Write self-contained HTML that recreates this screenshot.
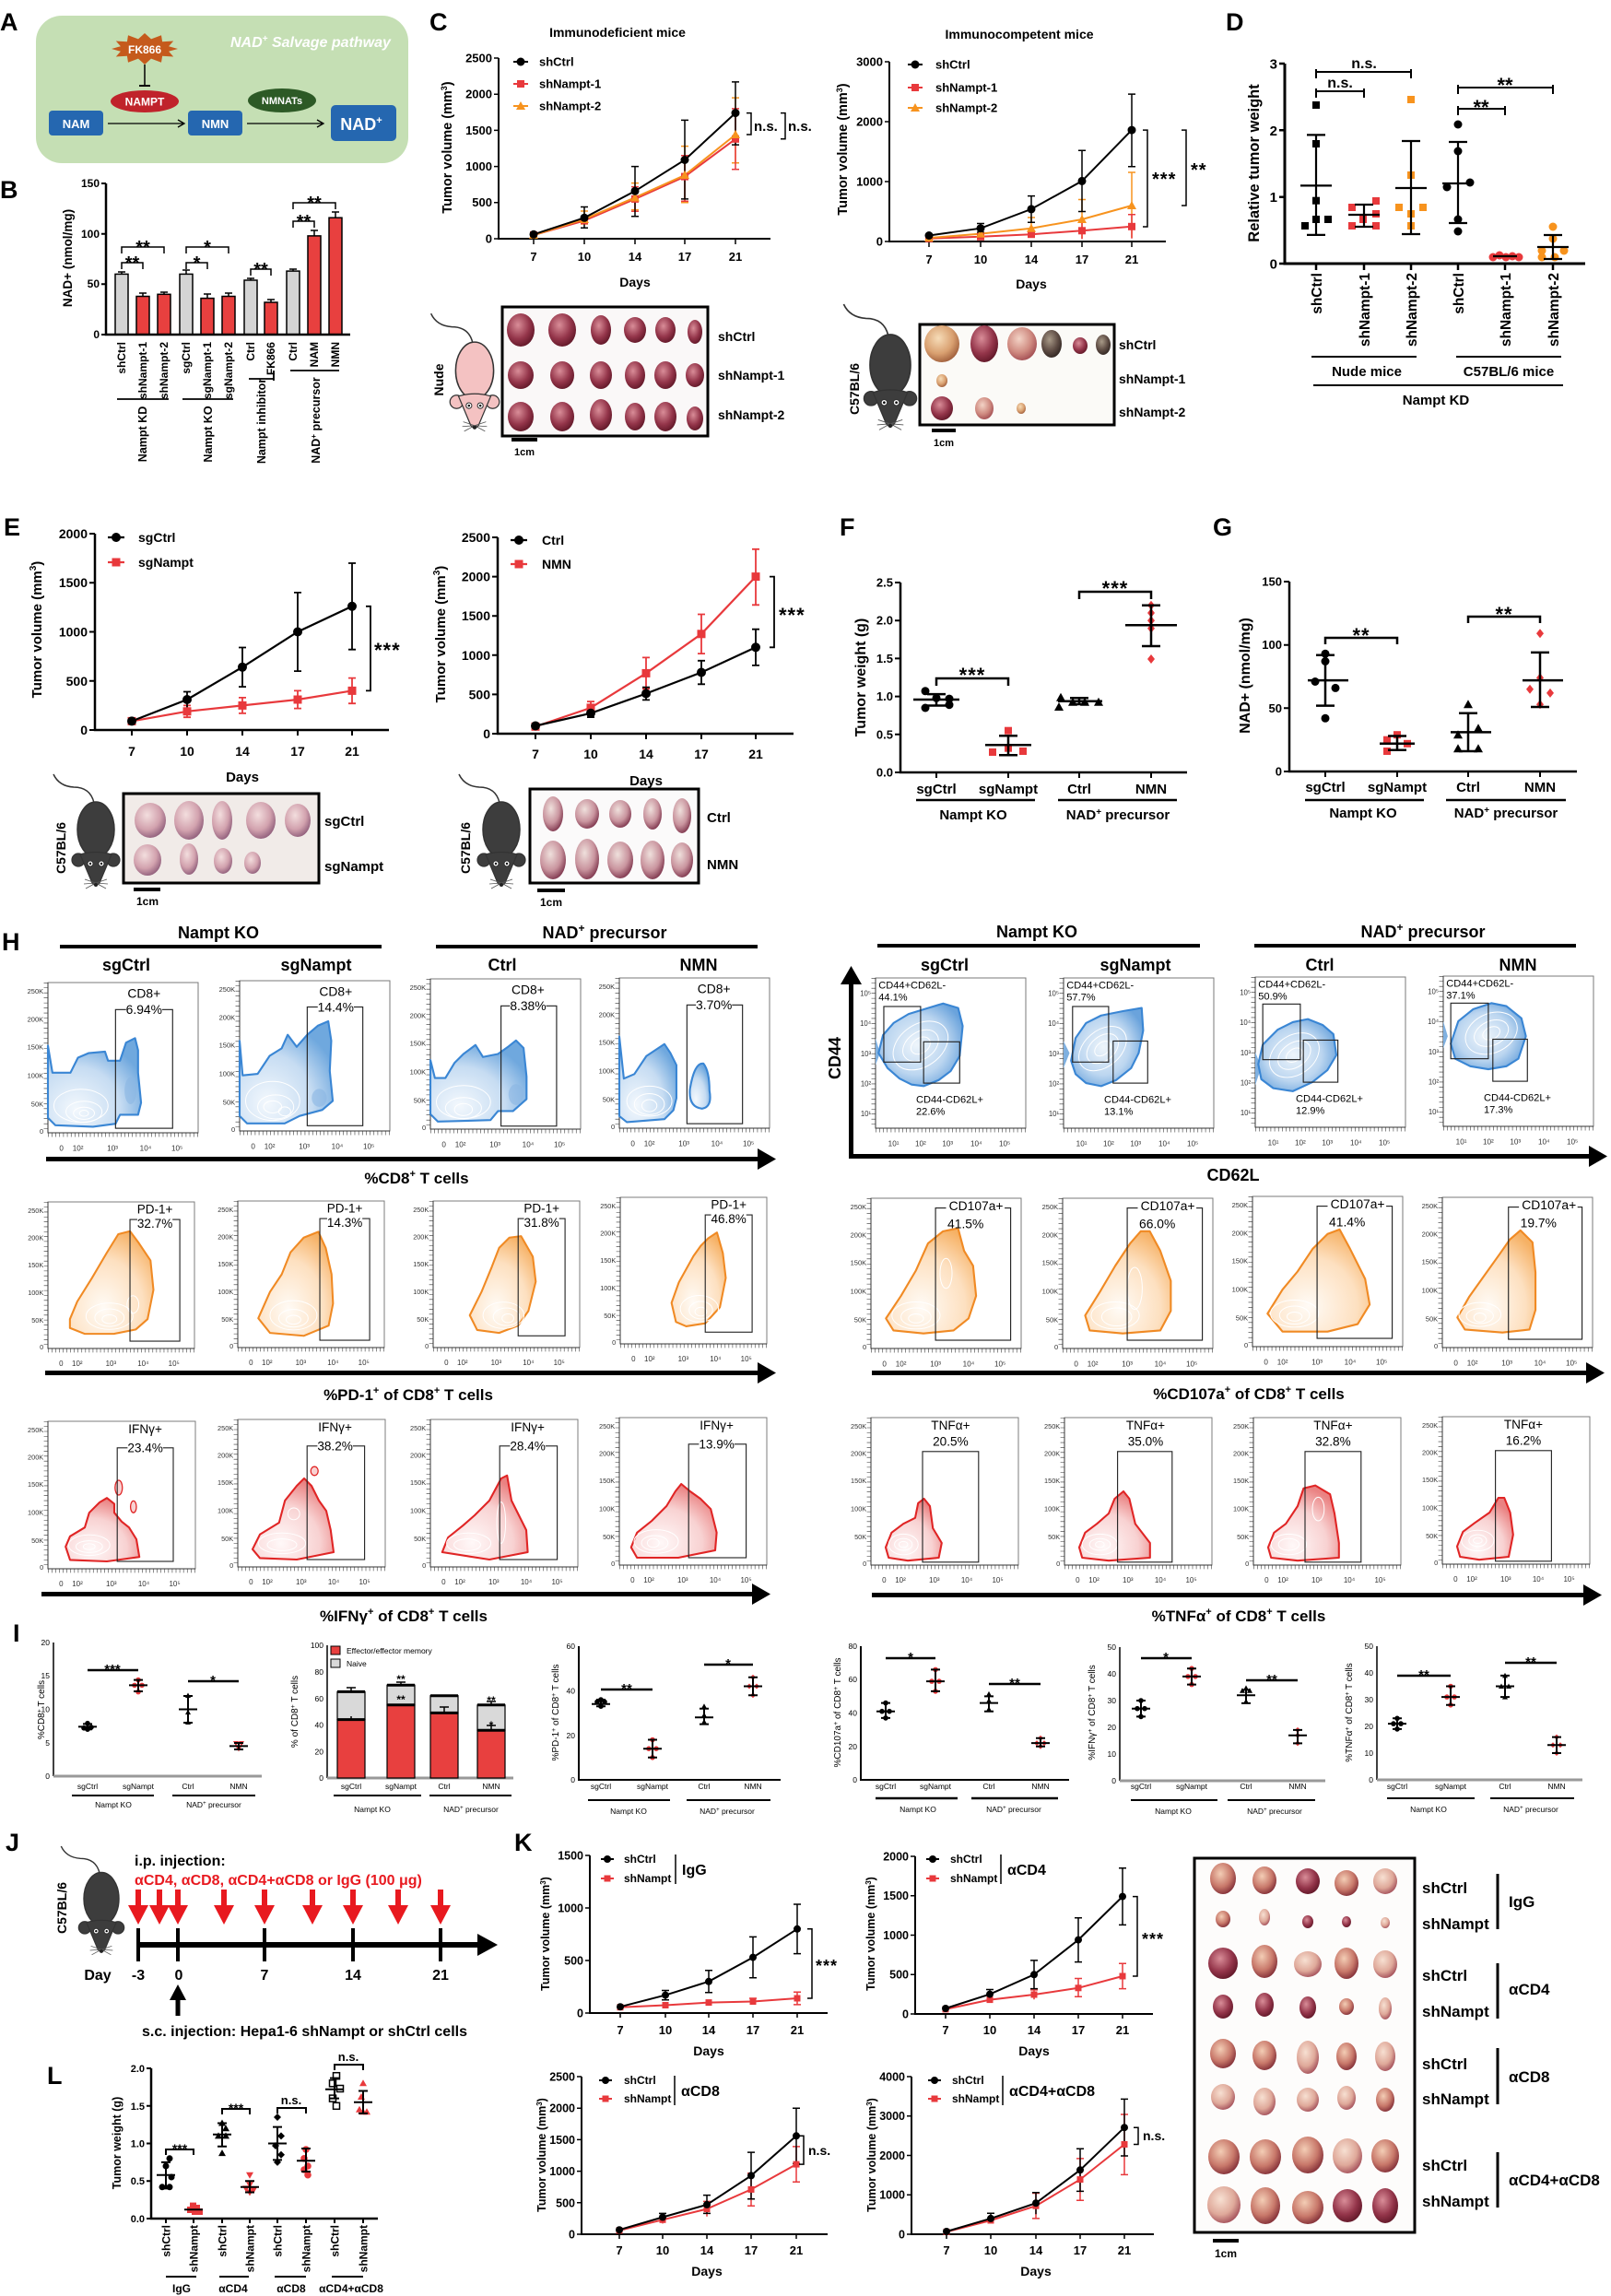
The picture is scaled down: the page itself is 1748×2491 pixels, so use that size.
<!DOCTYPE html>
<html><head><meta charset="utf-8">
<style>
html,body{margin:0;padding:0;background:#fff;}
svg{display:block;font-family:"Liberation Sans",Arial,"DejaVu Sans",sans-serif;}
</style></head><body>
<svg xmlns="http://www.w3.org/2000/svg" xmlns:xlink="http://www.w3.org/1999/xlink" width="1748" height="2491" viewBox="0 0 1748 2491">
<defs>
<radialGradient id="gB" cx=".3" cy=".8" r=".8"><stop offset="0" stop-color="#f3f8fd"/><stop offset=".6" stop-color="#c6dcf2"/><stop offset="1" stop-color="#6fa8de"/></radialGradient>
<radialGradient id="gB2" cx=".45" cy=".5" r=".6"><stop offset="0" stop-color="#eef5fb"/><stop offset=".6" stop-color="#bcd6f0"/><stop offset="1" stop-color="#6aa3dc"/></radialGradient>
<radialGradient id="gO" cx=".4" cy=".75" r=".8"><stop offset="0" stop-color="#fffbf6"/><stop offset=".6" stop-color="#fde0c0"/><stop offset="1" stop-color="#f6b164"/></radialGradient>
<radialGradient id="gR" cx=".35" cy=".8" r=".8"><stop offset="0" stop-color="#fff8f8"/><stop offset=".6" stop-color="#f8d2d2"/><stop offset="1" stop-color="#ea8282"/></radialGradient>
<radialGradient id="t1" cx=".4" cy=".35" r=".7"><stop offset="0" stop-color="#d98d98"/><stop offset=".6" stop-color="#94354a"/><stop offset="1" stop-color="#5e1626"/></radialGradient>
<radialGradient id="t2" cx=".4" cy=".35" r=".7"><stop offset="0" stop-color="#f6dcb8"/><stop offset=".6" stop-color="#d9a070"/><stop offset="1" stop-color="#9c5a38"/></radialGradient>
<radialGradient id="t3" cx=".4" cy=".35" r=".7"><stop offset="0" stop-color="#f3d3c6"/><stop offset=".6" stop-color="#cf8a80"/><stop offset="1" stop-color="#a04a50"/></radialGradient>
<radialGradient id="t4" cx=".4" cy=".35" r=".7"><stop offset="0" stop-color="#a89a88"/><stop offset=".6" stop-color="#5e4c44"/><stop offset="1" stop-color="#2e2420"/></radialGradient>
<radialGradient id="tE" cx=".4" cy=".35" r=".7"><stop offset="0" stop-color="#f3dede"/><stop offset=".6" stop-color="#d2a2ae"/><stop offset="1" stop-color="#8c5a78"/></radialGradient>
<radialGradient id="tE2" cx=".4" cy=".35" r=".7"><stop offset="0" stop-color="#efe0dc"/><stop offset=".6" stop-color="#c9949e"/><stop offset="1" stop-color="#7a3048"/></radialGradient>
<radialGradient id="tK1" cx=".4" cy=".35" r=".7"><stop offset="0" stop-color="#f3cdb5"/><stop offset=".6" stop-color="#c8786a"/><stop offset="1" stop-color="#7e2a34"/></radialGradient>
<radialGradient id="tK2" cx=".4" cy=".35" r=".7"><stop offset="0" stop-color="#f7e0d2"/><stop offset=".6" stop-color="#dfa99a"/><stop offset="1" stop-color="#a04a56"/></radialGradient>
<g id="mouse">
<path d="M-2,-29 Q-6,-46 -24,-46 Q-40,-47 -46,-60" fill="none" stroke="#333" stroke-width="1.5"/>
<ellipse cx="0" cy="0" rx="20" ry="30" stroke="#333" stroke-width="1.5"/>
<circle cx="-19" cy="33" r="7" stroke="#333" stroke-width="1.2"/>
<circle cx="19" cy="33" r="7" stroke="#333" stroke-width="1.2"/>
<path d="M-17,27 Q0,22 17,27 L4,58 Q0,63 -4,58 Z" stroke="#333" stroke-width="1.2"/>
<circle cx="-6" cy="37" r="3" fill="#fff" stroke="#333"/><circle cx="6" cy="37" r="3" fill="#fff" stroke="#333"/>
<circle cx="-6" cy="37" r="1.2" fill="#000"/><circle cx="6" cy="37" r="1.2" fill="#000"/>
<path d="M0,58 L-12,54 M0,58 L-13,59 M0,58 L-11,64 M0,58 L12,54 M0,58 L13,59 M0,58 L11,64" stroke="#555" stroke-width="0.8" fill="none"/>
<circle cx="0" cy="60" r="2" fill="#222"/>
</g>
</defs>
<rect width="1748" height="2491" fill="#fff"/>

<!-- Panel letters -->
<g font-size="27" font-weight="bold">
<text x="0" y="33">A</text><text x="0" y="215">B</text><text x="466" y="33">C</text><text x="1330" y="33">D</text>
<text x="4" y="581">E</text><text x="911" y="581">F</text><text x="1316" y="581">G</text><text x="2" y="1031">H</text>
<text x="14" y="1781">I</text><text x="6" y="2008">J</text><text x="558" y="2008">K</text><text x="51" y="2261">L</text>
</g>

<!-- ===== A ===== -->
<rect x="39" y="17" width="404" height="160" rx="28" fill="#c5dfb4"/>
<text x="250" y="51" font-size="16" font-style="italic" font-weight="bold" fill="#fff">NAD<tspan dy="-6" font-size="10">+</tspan><tspan dy="6"> Salvage pathway</tspan></text>
<polygon points="193,53 183.1,55.8 188.2,61.5 176.1,60.8 175,67.7 164,63.6 157,70 150,63.6 139,67.7 137.9,60.8 125.8,61.5 130.9,55.8 121,53 130.9,50.2 125.8,44.5 137.9,45.2 139,38.3 150,42.4 157,36 164,42.4 175,38.3 176.1,45.2 188.2,44.5 183.1,50.2" fill="#c55a1c"/>
<text x="157" y="58" font-size="12" font-weight="bold" fill="#fff" text-anchor="middle">FK866</text>
<line x1="157" y1="70" x2="157" y2="93" stroke="#000" stroke-width="1.5"/><line x1="151" y1="93" x2="163" y2="93" stroke="#000" stroke-width="2"/>
<ellipse cx="157" cy="110" rx="37" ry="12" fill="#c0232b"/>
<text x="157" y="114.5" font-size="12" font-weight="bold" fill="#fff" text-anchor="middle">NAMPT</text>
<ellipse cx="306" cy="109" rx="37" ry="13" fill="#2d5a26"/>
<text x="306" y="113" font-size="11" font-weight="bold" fill="#fff" text-anchor="middle">NMNATs</text>
<rect x="53" y="120" width="59" height="27" rx="4" fill="#2567b0"/><text x="82.5" y="139" font-size="13" font-weight="bold" fill="#fff" text-anchor="middle">NAM</text>
<rect x="204" y="120" width="59" height="27" rx="4" fill="#2567b0"/><text x="233.5" y="139" font-size="13" font-weight="bold" fill="#fff" text-anchor="middle">NMN</text>
<rect x="359" y="114" width="71" height="39" rx="5" fill="#2567b0"/><text x="392" y="141" font-size="18" font-weight="bold" fill="#fff" text-anchor="middle">NAD<tspan dy="-7" font-size="11">+</tspan></text>
<g stroke="#000" stroke-width="1.3" fill="none"><path d="M117,134H200M193,130L200,134L193,138"/><path d="M268,134H351M344,130L351,134L344,138"/></g>

<!-- ===== B ===== -->
<g stroke="#000" stroke-width="1.5">
<rect x="125" y="297.4" width="14" height="65.6" fill="#d4d4d4"/>
<rect x="148" y="321.5" width="14" height="41.5" fill="#e8403f"/>
<rect x="171" y="319.3" width="14" height="43.7" fill="#e8403f"/>
<rect x="195" y="297.4" width="14" height="65.6" fill="#d4d4d4"/>
<rect x="218" y="323.6" width="14" height="39.4" fill="#e8403f"/>
<rect x="241" y="321.5" width="14" height="41.5" fill="#e8403f"/>
<rect x="265" y="304" width="14" height="59" fill="#d4d4d4"/>
<rect x="287" y="328" width="14" height="35" fill="#e8403f"/>
<rect x="311" y="294.1" width="14" height="68.9" fill="#d4d4d4"/>
<rect x="334" y="255.9" width="14" height="107.1" fill="#e8403f"/>
<rect x="357" y="236.2" width="14" height="126.8" fill="#e8403f"/>
</g>
<path d="M132,297V295M128,295H136M155,321V318M151,318H159M178,319V317M174,317H182M202,297V293M198,293H206M225,323V319M221,319H229M248,321V318M244,318H252M272,304V302M268,302H276M294,328V325M290,325H298M318,294V292M314,292H322M341,256V250M337,250H345M364,236V230M360,230H368" stroke="#000" stroke-width="1.5" fill="none"/>
<path d="M115,199V363H380" stroke="#000" stroke-width="2.5" fill="none"/>
<path d="M110,199H115M110,253.7H115M110,308.3H115M110,363H115" stroke="#000" stroke-width="2"/>
<g font-size="12" font-weight="bold" text-anchor="end"><text x="108" y="203">150</text><text x="108" y="258">100</text><text x="108" y="312">50</text><text x="108" y="367">0</text></g>
<text transform="translate(78,280) rotate(-90)" font-size="13.5" font-weight="bold" text-anchor="middle">NAD+ (nmol/mg)</text>
<g font-size="12" font-weight="bold" text-anchor="end">
<text transform="translate(136,371) rotate(-90)">shCtrl</text><text transform="translate(159,371) rotate(-90)">shNampt-1</text><text transform="translate(182,371) rotate(-90)">shNampt-2</text>
<text transform="translate(206,371) rotate(-90)">sgCtrl</text><text transform="translate(229,371) rotate(-90)">sgNampt-1</text><text transform="translate(252,371) rotate(-90)">sgNampt-2</text>
<text transform="translate(276,371) rotate(-90)">Ctrl</text><text transform="translate(298,371) rotate(-90)">FK866</text>
<text transform="translate(322,371) rotate(-90)">Ctrl</text><text transform="translate(345,371) rotate(-90)">NAM</text><text transform="translate(368,371) rotate(-90)">NMN</text>
</g>
<path d="M127,433H183M198,433H253M270,411H297M297,402V413M315,402H368" stroke="#000" stroke-width="1.8" fill="none"/>
<g font-size="12.5" font-weight="bold" text-anchor="middle">
<text transform="translate(159,471) rotate(-90)">Nampt KD</text><text transform="translate(230,471) rotate(-90)">Nampt KO</text>
<text transform="translate(288,457) rotate(-90)">Nampt inhibitor</text>
<text transform="translate(347,456) rotate(-90)">NAD<tspan dy="-4" font-size="8">+</tspan><tspan dy="4"> precursor</tspan></text>
</g>
<path d="M132,275V268H178V275M132,292V285H155V292M202,275V268H248V275M202,292V285H225V292M272,299V292H294V299M318,227V220H364V227M318,247V240H341V247" stroke="#000" stroke-width="1.5" fill="none"/>
<g font-size="20" font-weight="bold" text-anchor="middle"><text x="155" y="275">**</text><text x="143.5" y="292">**</text><text x="225" y="275">*</text><text x="213.5" y="292">*</text><text x="283" y="299">**</text><text x="341" y="227">**</text><text x="329.5" y="247">**</text></g>

<!-- ===== C left ===== -->
<g font-weight="bold">
<text x="670" y="40" text-anchor="middle" font-size="14">Immunodeficient mice</text>
<path d="M541,63V259H836" stroke="#000" stroke-width="2" fill="none"/>
<path d="M536,63H541M536,102.2H541M536,141.4H541M536,180.6H541M536,219.8H541M536,259H541M579,259V265M634,259V265M689,259V265M743,259V265M798,259V265" stroke="#000" stroke-width="1.5"/>
<g font-size="13" text-anchor="end"><text x="534" y="67.5">2500</text><text x="534" y="106.5">2000</text><text x="534" y="146">1500</text><text x="534" y="185">1000</text><text x="534" y="224">500</text><text x="534" y="263.5">0</text></g>
<g font-size="13" text-anchor="middle"><text x="579" y="283">7</text><text x="634" y="283">10</text><text x="689" y="283">14</text><text x="743" y="283">17</text><text x="798" y="283">21</text></g>
<text x="689" y="311" font-size="14" text-anchor="middle">Days</text>
<text transform="translate(490,160) rotate(-90)" font-size="14.5" text-anchor="middle">Tumor volume (mm<tspan dy="-5" font-size="9">3</tspan><tspan dy="5">)</tspan></text>
</g>
<path d="M634,243V229M630,243H638M630,229H638M689,227.6V198.6M685,227.6H693M685,198.6H693M743,219.8V158.6M739,219.8H747M739,158.6H747M798,176.7V106.1M794,176.7H802M794,106.1H802" stroke="#f7931e" stroke-width="1.5" fill="none"/>
<path d="M689,229.2V202.6M685,229.2H693M685,202.6H693M743,218.2V168.8M739,218.2H747M739,168.8H747M798,183.7V117.9M794,183.7H802M794,117.9H802" stroke="#e8393c" stroke-width="1.5" fill="none"/>
<path d="M634,247.2V224.5M630,247.2H638M630,224.5H638M689,234.7V180.6M685,234.7H693M685,180.6H693M743,215.9V130.4M739,215.9H747M739,130.4H747M798,157.1V88.9M794,157.1H802M794,88.9H802" stroke="#000" stroke-width="1.5" fill="none"/>
<polyline points="579,255.1 634,239.4 689,215.9 743,191.6 798,150.8" stroke="#e8393c" stroke-width="2" fill="none"/>
<polyline points="579,255.1 634,237.8 689,214.3 743,190 798,146.1" stroke="#f7931e" stroke-width="2" fill="none"/>
<polyline points="579,254.3 634,236.3 689,207.3 743,173.5 798,122.6" stroke="#000" stroke-width="2" fill="none"/>
<g fill="#e8393c"><rect x="575" y="251" width="8" height="8"/><rect x="630" y="235.4" width="8" height="8"/><rect x="685" y="211.9" width="8" height="8"/><rect x="739" y="187.6" width="8" height="8"/><rect x="794" y="146.8" width="8" height="8"/></g>
<g fill="#f7931e"><path d="M579,250l5,9h-10z"/><path d="M634,233l5,9h-10z"/><path d="M689,209.5l5,9h-10z"/><path d="M743,185l5,9h-10z"/><path d="M798,141l5,9h-10z"/></g>
<g fill="#000"><circle cx="579" cy="254.3" r="4.5"/><circle cx="634" cy="236.3" r="4.5"/><circle cx="689" cy="207.3" r="4.5"/><circle cx="743" cy="173.5" r="4.5"/><circle cx="798" cy="122.6" r="4.5"/></g>
<path d="M557,67H573M557,91H573" stroke="#000" stroke-width="2"/><path d="M557,91H573" stroke="#e8393c" stroke-width="2"/><path d="M557,115H573" stroke="#f7931e" stroke-width="2"/>
<circle cx="565" cy="67" r="4.5"/><rect x="561" y="87" width="8" height="8" fill="#e8393c"/><path d="M565,110l5,9h-10z" fill="#f7931e"/>
<g font-size="13" font-weight="bold"><text x="585" y="71.5">shCtrl</text><text x="585" y="95.5">shNampt-1</text><text x="585" y="119.5">shNampt-2</text></g>
<path d="M810,122.6H815V146H810M847,122.6H852V150.8H847" stroke="#000" stroke-width="1.5" fill="none"/>
<g font-size="15" font-weight="bold"><text x="818" y="142">n.s.</text><text x="855" y="142">n.s.</text></g>

<!-- ===== C right ===== -->
<g font-weight="bold">
<text x="1106" y="42" text-anchor="middle" font-size="14">Immunocompetent mice</text>
<path d="M965,67V262H1265" stroke="#000" stroke-width="2" fill="none"/>
<path d="M960,67H965M960,132H965M960,197H965M960,262H965M1008,262V268M1064,262V268M1119,262V268M1174,262V268M1228,262V268" stroke="#000" stroke-width="1.5"/>
<g font-size="13" text-anchor="end"><text x="958" y="71.5">3000</text><text x="958" y="136.5">2000</text><text x="958" y="201.5">1000</text><text x="958" y="266.5">0</text></g>
<g font-size="13" text-anchor="middle"><text x="1008" y="286">7</text><text x="1064" y="286">10</text><text x="1119" y="286">14</text><text x="1174" y="286">17</text><text x="1228" y="286">21</text></g>
<text x="1119" y="313" font-size="14" text-anchor="middle">Days</text>
<text transform="translate(919,162) rotate(-90)" font-size="14.5" text-anchor="middle">Tumor volume (mm<tspan dy="-5" font-size="9">3</tspan><tspan dy="5">)</tspan></text>
</g>
<path d="M1119,254V236M1115,236H1123M1174,258.8V216.5M1170,216.5H1178M1228,258V187M1224,187H1232" stroke="#f7931e" stroke-width="1.5" fill="none"/>
<path d="M1119,258V250M1174,259.4V241.2M1170,241.2H1178M1228,258.8V232.8M1224,232.8H1232" stroke="#e8393c" stroke-width="1.5" fill="none"/>
<path d="M1064,252V242.5M1060,252H1068M1060,242.5H1068M1119,241.2V212.6M1115,241.2H1123M1115,212.6H1123M1174,229.5V163.2M1170,229.5H1178M1170,163.2H1178M1228,180.8V102.1M1224,180.8H1232M1224,102.1H1232" stroke="#000" stroke-width="1.5" fill="none"/>
<polyline points="1008,258.8 1064,256.8 1119,254.2 1174,250.3 1228,245.8" stroke="#e8393c" stroke-width="2" fill="none"/>
<polyline points="1008,258.1 1064,253.6 1119,247.7 1174,238 1228,223" stroke="#f7931e" stroke-width="2" fill="none"/>
<polyline points="1008,255.5 1064,247.7 1119,226.9 1174,196.4 1228,141.1" stroke="#000" stroke-width="2" fill="none"/>
<g fill="#e8393c"><rect x="1004" y="254.8" width="8" height="8"/><rect x="1060" y="252.8" width="8" height="8"/><rect x="1115" y="250.2" width="8" height="8"/><rect x="1170" y="246.3" width="8" height="8"/><rect x="1224" y="241.8" width="8" height="8"/></g>
<g fill="#f7931e"><path d="M1008,253l5,9h-10z"/><path d="M1064,248.6l5,9h-10z"/><path d="M1119,242.7l5,9h-10z"/><path d="M1174,233l5,9h-10z"/><path d="M1228,218l5,9h-10z"/></g>
<g fill="#000"><circle cx="1008" cy="255.5" r="4.5"/><circle cx="1064" cy="247.7" r="4.5"/><circle cx="1119" cy="226.9" r="4.5"/><circle cx="1174" cy="196.4" r="4.5"/><circle cx="1228" cy="141.1" r="4.5"/></g>
<path d="M985,70H1001" stroke="#000" stroke-width="2"/><path d="M985,95H1001" stroke="#e8393c" stroke-width="2"/><path d="M985,117H1001" stroke="#f7931e" stroke-width="2"/>
<circle cx="993" cy="70" r="4.5"/><rect x="989" y="91" width="8" height="8" fill="#e8393c"/><path d="M993,112l5,9h-10z" fill="#f7931e"/>
<g font-size="13" font-weight="bold"><text x="1015" y="74.5">shCtrl</text><text x="1015" y="99.5">shNampt-1</text><text x="1015" y="121.5">shNampt-2</text></g>
<path d="M1240,141.1H1245V246H1240M1282,141.1H1287V223H1282" stroke="#000" stroke-width="1.5" fill="none"/>
<g font-size="20" font-weight="bold" letter-spacing="1"><text x="1250" y="201">***</text><text x="1292" y="191">**</text></g>

<!-- C photos -->
<use xlink:href="#mouse" href="#mouse" transform="translate(515,402) scale(1.03)" fill="#f4c2c2"/>
<text transform="translate(481,412) rotate(-90)" font-size="14" font-weight="bold" text-anchor="middle">Nude</text>
<rect x="545" y="333" width="223" height="140" fill="#faf8f8" stroke="#000" stroke-width="3"/>
<g fill="url(#t1)">
<ellipse cx="565" cy="358" rx="15" ry="18"/><ellipse cx="610" cy="358" rx="15" ry="18"/><ellipse cx="652" cy="358" rx="11" ry="16"/><ellipse cx="689" cy="358" rx="12" ry="14"/><ellipse cx="722" cy="358" rx="11" ry="14"/><ellipse cx="754" cy="360" rx="8" ry="13"/>
<ellipse cx="565" cy="407" rx="14" ry="15"/><ellipse cx="610" cy="407" rx="13" ry="15"/><ellipse cx="652" cy="407" rx="12" ry="15"/><ellipse cx="689" cy="407" rx="11" ry="15"/><ellipse cx="722" cy="407" rx="12" ry="15"/><ellipse cx="754" cy="407" rx="10" ry="13"/>
<ellipse cx="565" cy="452" rx="14" ry="16"/><ellipse cx="610" cy="452" rx="13" ry="16"/><ellipse cx="652" cy="450" rx="12" ry="17"/><ellipse cx="689" cy="452" rx="11" ry="15"/><ellipse cx="722" cy="452" rx="12" ry="16"/><ellipse cx="754" cy="454" rx="9" ry="13"/>
</g>
<g font-size="14" font-weight="bold"><text x="779" y="370">shCtrl</text><text x="779" y="412">shNampt-1</text><text x="779" y="455">shNampt-2</text></g>
<line x1="555" y1="477" x2="583" y2="477" stroke="#000" stroke-width="4"/><text x="569" y="494" font-size="11" font-weight="bold" text-anchor="middle">1cm</text>

<use xlink:href="#mouse" href="#mouse" transform="translate(966,396) scale(1.1)" fill="#3d3d3d"/>
<text transform="translate(932,422) rotate(-90)" font-size="14" font-weight="bold" text-anchor="middle">C57BL/6</text>
<rect x="998" y="352" width="211" height="109" fill="#fbfaf7" stroke="#000" stroke-width="3"/>
<ellipse cx="1022" cy="373" rx="19" ry="20" fill="url(#t2)"/><ellipse cx="1068" cy="373" rx="15" ry="20" fill="url(#t1)"/><ellipse cx="1109" cy="373" rx="16" ry="18" fill="url(#t3)"/><ellipse cx="1141" cy="373" rx="11" ry="15" fill="url(#t4)"/><ellipse cx="1172" cy="375" rx="8" ry="9" fill="url(#t1)"/><ellipse cx="1197" cy="374" rx="8" ry="11" fill="url(#t4)"/>
<ellipse cx="1022" cy="413" rx="6" ry="7" fill="url(#t2)"/>
<ellipse cx="1022" cy="443" rx="12" ry="13" fill="url(#t1)"/><ellipse cx="1068" cy="443" rx="10" ry="12" fill="url(#t3)"/><ellipse cx="1108" cy="443" rx="5" ry="6" fill="url(#t2)"/>
<g font-size="14" font-weight="bold"><text x="1214" y="379">shCtrl</text><text x="1214" y="416">shNampt-1</text><text x="1214" y="452">shNampt-2</text></g>
<line x1="1011" y1="467" x2="1037" y2="467" stroke="#000" stroke-width="4"/><text x="1024" y="484" font-size="11" font-weight="bold" text-anchor="middle">1cm</text>

<!-- ===== D ===== -->
<path d="M1394,69V286H1720" stroke="#000" stroke-width="3" fill="none"/>
<path d="M1388,69H1394M1388,141.3H1394M1388,213.7H1394M1388,286H1394M1428,286V293M1480,286V293M1531,286V293M1582,286V293M1633,286V293M1685,286V293" stroke="#000" stroke-width="2.5"/>
<g font-size="15" font-weight="bold" text-anchor="end"><text x="1386" y="74.5">3</text><text x="1386" y="147">2</text><text x="1386" y="219">1</text><text x="1386" y="291.5">0</text></g>
<text transform="translate(1366,177) rotate(-90)" font-size="16.5" font-weight="bold" text-anchor="middle">Relative tumor weight</text>
<g font-size="15.5" font-weight="bold" text-anchor="end">
<text transform="translate(1434,296) rotate(-90)">shCtrl</text><text transform="translate(1486,296) rotate(-90)">shNampt-1</text><text transform="translate(1537,296) rotate(-90)">shNampt-2</text>
<text transform="translate(1588,296) rotate(-90)">shCtrl</text><text transform="translate(1639,296) rotate(-90)">shNampt-1</text><text transform="translate(1691,296) rotate(-90)">shNampt-2</text>
</g>
<path d="M1423,387H1537M1580,387H1694M1425,418H1696" stroke="#000" stroke-width="2"/>
<g font-size="15" font-weight="bold" text-anchor="middle"><text x="1483" y="408">Nude mice</text><text x="1637" y="408">C57BL/6 mice</text><text x="1558" y="439">Nampt KD</text></g>
<g fill="#000"><rect x="1424" y="110" width="8" height="8"/><rect x="1424" y="152" width="8" height="8"/><rect x="1424" y="213.7" width="8" height="8"/><rect x="1424" y="234" width="8" height="8"/><rect x="1412" y="241" width="8" height="8"/><rect x="1437" y="234" width="8" height="8"/></g>
<g fill="#e8393c"><rect x="1463" y="221" width="8" height="8"/><rect x="1489" y="214" width="8" height="8"/><rect x="1489" y="228" width="8" height="8"/><rect x="1475" y="234" width="8" height="8"/><rect x="1463" y="241" width="8" height="8"/><rect x="1489" y="241" width="8" height="8"/></g>
<g fill="#f7931e"><rect x="1527" y="104" width="8" height="8"/><rect x="1527" y="186" width="8" height="8"/><rect x="1514" y="221" width="8" height="8"/><rect x="1540" y="221" width="8" height="8"/><rect x="1527" y="228" width="8" height="8"/><rect x="1527" y="241" width="8" height="8"/></g>
<g fill="#000"><circle cx="1582" cy="135" r="4.5"/><circle cx="1582" cy="164" r="4.5"/><circle cx="1570" cy="203" r="4.5"/><circle cx="1595" cy="198" r="4.5"/><circle cx="1582" cy="238" r="4.5"/><circle cx="1582" cy="251" r="4.5"/></g>
<g fill="#e8393c"><circle cx="1620" cy="279" r="4.5"/><circle cx="1627" cy="277" r="4.5"/><circle cx="1634" cy="279" r="4.5"/><circle cx="1641" cy="278" r="4.5"/><circle cx="1648" cy="279" r="4.5"/></g>
<g fill="#f7931e"><circle cx="1685" cy="246" r="4.5"/><circle cx="1685" cy="259" r="4.5"/><circle cx="1673" cy="272" r="4.5"/><circle cx="1697" cy="272" r="4.5"/><circle cx="1673" cy="279" r="4.5"/><circle cx="1687" cy="279" r="4.5"/></g>
<path d="M1411,201.4H1445M1428,146.4V254.9M1418,146.4H1438M1418,254.9H1438M1463,233H1497M1480,222V246M1470,222H1490M1470,246H1490M1514,204H1548M1531,153V254M1521,153H1541M1521,254H1541M1565,199H1599M1582,154V242M1572,154H1592M1572,242H1592M1620,278H1646M1668,268H1702M1685,255V281M1675,255H1695M1675,281H1695" stroke="#000" stroke-width="2.2" fill="none"/>
<path d="M1428,85V75M1428,78H1531M1531,75V85M1428,106V96M1428,99H1480M1480,96V106M1582,102V92M1582,95H1685M1685,92V102M1582,125V115M1582,118H1633M1633,115V125" stroke="#000" stroke-width="2" fill="none"/>
<g font-size="16" font-weight="bold" text-anchor="middle"><text x="1480" y="74">n.s.</text><text x="1454" y="95">n.s.</text></g>
<g font-size="22" font-weight="bold" text-anchor="middle"><text x="1633" y="100">**</text><text x="1607" y="124">**</text></g>

<!-- ===== E left ===== -->
<g font-weight="bold">
<path d="M103,579V792H422" stroke="#000" stroke-width="2.5" fill="none"/>
<path d="M97,579H103M97,632.25H103M97,685.5H103M97,738.75H103M97,792H103M143,792V798M203,792V798M263,792V798M323,792V798M382,792V798" stroke="#000" stroke-width="2"/>
<g font-size="14" text-anchor="end"><text x="95" y="584">2000</text><text x="95" y="637">1500</text><text x="95" y="690.5">1000</text><text x="95" y="744">500</text><text x="95" y="797">0</text></g>
<g font-size="14" text-anchor="middle"><text x="143" y="820">7</text><text x="203" y="820">10</text><text x="263" y="820">14</text><text x="323" y="820">17</text><text x="382" y="820">21</text></g>
<text x="263" y="848" font-size="15" text-anchor="middle">Days</text>
<text transform="translate(45,683) rotate(-90)" font-size="15" text-anchor="middle">Tumor volume (mm<tspan dy="-6" font-size="10">3</tspan><tspan dy="6">)</tspan></text>
</g>
<path d="M143,785.6V779.2M203,778.2V765.4M199,778.2H207M199,765.4H207M263,773.9V756.9M259,773.9H267M259,756.9H267M323,768.6V749.4M319,768.6H327M319,749.4H327M382,763.2V735.6M378,763.2H386M378,735.6H386" stroke="#e8393c" stroke-width="1.8" fill="none"/>
<path d="M203,767.5V750.5M199,750.5H207M263,745.1V702.5M259,745.1H267M259,702.5H267M323,728.1V642.9M319,728.1H327M319,642.9H327M382,704.7V611M378,704.7H386M378,611H386" stroke="#000" stroke-width="1.8" fill="none"/>
<polyline points="143,782.4 203,771.8 263,765.4 323,759 382,749.4" stroke="#e8393c" stroke-width="2.2" fill="none"/>
<polyline points="143,782.4 203,759 263,723.8 323,685.5 382,657.8" stroke="#000" stroke-width="2.2" fill="none"/>
<g fill="#e8393c"><rect x="138.5" y="777.9" width="9" height="9"/><rect x="198.5" y="767.3" width="9" height="9"/><rect x="258.5" y="760.9" width="9" height="9"/><rect x="318.5" y="754.5" width="9" height="9"/><rect x="377.5" y="744.9" width="9" height="9"/></g>
<g fill="#000"><circle cx="143" cy="782.4" r="5"/><circle cx="203" cy="759" r="5"/><circle cx="263" cy="723.8" r="5"/><circle cx="323" cy="685.5" r="5"/><circle cx="382" cy="657.8" r="5"/></g>
<path d="M117,583H135" stroke="#000" stroke-width="2.2"/><circle cx="126" cy="583" r="5"/>
<path d="M117,610H135" stroke="#e8393c" stroke-width="2.2"/><rect x="121.5" y="605.5" width="9" height="9" fill="#e8393c"/>
<g font-size="14" font-weight="bold"><text x="150" y="588">sgCtrl</text><text x="150" y="615">sgNampt</text></g>
<path d="M397,657.8H402V749.4H397" stroke="#000" stroke-width="1.8" fill="none"/>
<text x="406" y="713" font-size="22" font-weight="bold" letter-spacing="1">***</text>

<!-- ===== E right ===== -->
<g font-weight="bold">
<path d="M540,583V796H861" stroke="#000" stroke-width="2.5" fill="none"/>
<path d="M534,583H540M534,625.6H540M534,668.2H540M534,710.8H540M534,753.4H540M534,796H540M581,796V802M641,796V802M701,796V802M761,796V802M820,796V802" stroke="#000" stroke-width="2"/>
<g font-size="14" text-anchor="end"><text x="532" y="588">2500</text><text x="532" y="630.6">2000</text><text x="532" y="673.2">1500</text><text x="532" y="715.8">1000</text><text x="532" y="758.4">500</text><text x="532" y="801">0</text></g>
<g font-size="14" text-anchor="middle"><text x="581" y="823">7</text><text x="641" y="823">10</text><text x="701" y="823">14</text><text x="761" y="823">17</text><text x="820" y="823">21</text></g>
<text x="701" y="852" font-size="15" text-anchor="middle">Days</text>
<text transform="translate(483,688) rotate(-90)" font-size="15" text-anchor="middle">Tumor volume (mm<tspan dy="-6" font-size="10">3</tspan><tspan dy="6">)</tspan></text>
</g>
<path d="M641,774.7V761.1M637,774.7H645M637,761.1H645M701,747.4V713.4M697,747.4H705M697,713.4H705M761,709.1V666.5M757,709.1H765M757,666.5H765M820,656.3V595.8M816,656.3H824M816,595.8H824" stroke="#e8393c" stroke-width="1.8" fill="none"/>
<path d="M641,778.1V769.6M637,778.1H645M701,759.4V745.7M697,759.4H705M697,745.7H705M761,742.3V716.8M757,742.3H765M757,716.8H765M820,721.9V682.7M816,721.9H824M816,682.7H824" stroke="#000" stroke-width="1.8" fill="none"/>
<polyline points="581,788.3 641,767.9 701,730.4 761,687.8 820,625.6" stroke="#e8393c" stroke-width="2.2" fill="none"/>
<polyline points="581,787.5 641,773.8 701,752.5 761,729.5 820,702.3" stroke="#000" stroke-width="2.2" fill="none"/>
<g fill="#e8393c"><rect x="576.5" y="783.8" width="9" height="9"/><rect x="636.5" y="763.4" width="9" height="9"/><rect x="696.5" y="725.9" width="9" height="9"/><rect x="756.5" y="683.3" width="9" height="9"/><rect x="815.5" y="621.1" width="9" height="9"/></g>
<g fill="#000"><circle cx="581" cy="787.5" r="5"/><circle cx="641" cy="773.8" r="5"/><circle cx="701" cy="752.5" r="5"/><circle cx="761" cy="729.5" r="5"/><circle cx="820" cy="702.3" r="5"/></g>
<path d="M554,586H572" stroke="#000" stroke-width="2.2"/><circle cx="563" cy="586" r="5"/>
<path d="M554,612H572" stroke="#e8393c" stroke-width="2.2"/><rect x="558.5" y="607.5" width="9" height="9" fill="#e8393c"/>
<g font-size="14" font-weight="bold"><text x="588" y="591">Ctrl</text><text x="588" y="617">NMN</text></g>
<path d="M835,625.6H840V702.3H835" stroke="#000" stroke-width="1.8" fill="none"/>
<text x="845" y="675" font-size="22" font-weight="bold" letter-spacing="1">***</text>

<!-- E photos -->
<use xlink:href="#mouse" href="#mouse" transform="translate(104,900)" fill="#3d3d3d"/>
<text transform="translate(71,920) rotate(-90)" font-size="14" font-weight="bold" text-anchor="middle">C57BL/6</text>
<rect x="134" y="861" width="212" height="97" fill="#f1ebe8" stroke="#000" stroke-width="3"/>
<g fill="url(#tE)">
<ellipse cx="163" cy="890" rx="17" ry="19"/><ellipse cx="205" cy="890" rx="16" ry="21"/><ellipse cx="241" cy="890" rx="11" ry="21"/><ellipse cx="283" cy="890" rx="16" ry="20"/><ellipse cx="323" cy="890" rx="14" ry="18"/>
<ellipse cx="160" cy="933" rx="15" ry="17"/><ellipse cx="205" cy="932" rx="10" ry="17"/><ellipse cx="242" cy="934" rx="10" ry="14"/><ellipse cx="274" cy="936" rx="9" ry="12"/>
</g>
<g font-size="15" font-weight="bold"><text x="352" y="896">sgCtrl</text><text x="352" y="945">sgNampt</text></g>
<line x1="145" y1="965" x2="174" y2="965" stroke="#000" stroke-width="4"/><text x="160" y="982" font-size="12" font-weight="bold" text-anchor="middle">1cm</text>
<use xlink:href="#mouse" href="#mouse" transform="translate(544,900)" fill="#3d3d3d"/>
<text transform="translate(510,920) rotate(-90)" font-size="14" font-weight="bold" text-anchor="middle">C57BL/6</text>
<rect x="575" y="856" width="183" height="102" fill="#fbfafa" stroke="#000" stroke-width="3"/>
<g fill="url(#tE2)">
<ellipse cx="600" cy="883" rx="11" ry="19"/><ellipse cx="637" cy="883" rx="13" ry="16"/><ellipse cx="673" cy="883" rx="12" ry="15"/><ellipse cx="708" cy="883" rx="10" ry="17"/><ellipse cx="740" cy="885" rx="10" ry="19"/>
<ellipse cx="600" cy="933" rx="14" ry="21"/><ellipse cx="637" cy="932" rx="13" ry="22"/><ellipse cx="673" cy="933" rx="14" ry="20"/><ellipse cx="708" cy="933" rx="13" ry="21"/><ellipse cx="740" cy="933" rx="12" ry="19"/>
</g>
<g font-size="15" font-weight="bold"><text x="767" y="892">Ctrl</text><text x="767" y="943">NMN</text></g>
<line x1="583" y1="966" x2="613" y2="966" stroke="#000" stroke-width="4"/><text x="598" y="983" font-size="12" font-weight="bold" text-anchor="middle">1cm</text>

<!-- ===== F ===== -->
<g font-weight="bold">
<path d="M977,632V838H1288" stroke="#000" stroke-width="2.5" fill="none"/>
<path d="M971,632H977M971,673.2H977M971,714.4H977M971,755.6H977M971,796.8H977M971,838H977M1016,838V844M1094,838V844M1171,838V844M1249,838V844" stroke="#000" stroke-width="2"/>
<g font-size="13" text-anchor="end"><text x="969" y="636.5">2.5</text><text x="969" y="677.7">2.0</text><text x="969" y="719">1.5</text><text x="969" y="760">1.0</text><text x="969" y="801.3">0.5</text><text x="969" y="842.5">0.0</text></g>
<g font-size="15" text-anchor="middle"><text x="1016" y="861">sgCtrl</text><text x="1094" y="861">sgNampt</text><text x="1171" y="861">Ctrl</text><text x="1249" y="861">NMN</text>
<text x="1056" y="889">Nampt KO</text><text x="1213" y="889">NAD<tspan dy="-5" font-size="10">+</tspan><tspan dy="5"> precursor</tspan></text></g>
<path d="M994,868H1123M1148,868H1277" stroke="#000" stroke-width="2.5"/>
<text transform="translate(939,735) rotate(-90)" font-size="16" text-anchor="middle">Tumor weight (g)</text>
</g>
<g fill="#000"><circle cx="1004" cy="749.8" r="4.5"/><circle cx="1016" cy="757.3" r="4.5"/><circle cx="1030" cy="758.1" r="4.5"/><circle cx="1030" cy="764.7" r="4.5"/><circle cx="1004" cy="768" r="4.5"/>
<path d="M1151,751.7l5,9h-10z"/><path d="M1164,756.7l5,9h-10z"/><path d="M1177,756.7l5,9h-10z"/><path d="M1192,756.7l5,9h-10z"/><path d="M1149,762l5,9h-10z"/></g>
<g fill="#e8393c"><rect x="1090" y="788.7" width="8" height="8"/><rect x="1090" y="807.7" width="8" height="8"/><rect x="1073" y="812" width="8" height="8"/><rect x="1106" y="811" width="8" height="8"/>
<path d="M1249,651.7l4,5-4,5-4-5z"/><path d="M1249,660l4,5-4,5-4-5z"/><path d="M1249,668.3l4,5-4,5-4-5z"/><path d="M1249,676.7l4,5-4,5-4-5z"/><path d="M1249,710l4,5-4,5-4-5z"/></g>
<path d="M991,759H1041M1016,753.1V765.5M1006,753.1H1026M1006,765.5H1026M1069,808.3H1119M1094,798.3V819.3M1084,798.3H1104M1084,819.3H1104M1148,760.7H1196M1171,757.3V764M1161,757.3H1181M1161,764H1181M1221,678.3H1277M1249,656.7V701M1239,656.7H1259M1239,701H1259" stroke="#000" stroke-width="2.5" fill="none"/>
<path d="M1016,744V736H1094V744M1171,650V642H1249V650" stroke="#000" stroke-width="2.5" fill="none"/>
<g font-size="22" font-weight="bold" text-anchor="middle" letter-spacing="1"><text x="1055" y="740">***</text><text x="1210" y="646">***</text></g>

<!-- ===== G ===== -->
<g font-weight="bold">
<path d="M1399,631V837H1711" stroke="#000" stroke-width="2.5" fill="none"/>
<path d="M1393,631H1399M1393,699.7H1399M1393,768.3H1399M1393,837H1399M1438,837V843M1516,837V843M1593,837V843M1671,837V843" stroke="#000" stroke-width="2"/>
<g font-size="13" text-anchor="end"><text x="1391" y="635.5">150</text><text x="1391" y="704">100</text><text x="1391" y="773">50</text><text x="1391" y="841.5">0</text></g>
<g font-size="15" text-anchor="middle"><text x="1438" y="859">sgCtrl</text><text x="1516" y="859">sgNampt</text><text x="1593" y="859">Ctrl</text><text x="1671" y="859">NMN</text>
<text x="1479" y="887">Nampt KO</text><text x="1634" y="887">NAD<tspan dy="-5" font-size="10">+</tspan><tspan dy="5"> precursor</tspan></text></g>
<path d="M1416,868H1545M1569,868H1699" stroke="#000" stroke-width="2.5"/>
<text transform="translate(1356,733) rotate(-90)" font-size="16" text-anchor="middle">NAD+ (nmol/mg)</text>
</g>
<g fill="#000"><circle cx="1438" cy="709.3" r="4.5"/><circle cx="1438" cy="717.5" r="4.5"/><circle cx="1427" cy="739.5" r="4.5"/><circle cx="1449" cy="746.4" r="4.5"/><circle cx="1438" cy="779.3" r="4.5"/>
<path d="M1593,759.2l5,9h-10z"/><path d="M1604,785.3l5,9h-10z"/><path d="M1582,792.2l5,9h-10z"/><path d="M1582,807.3l5,9h-10z"/><path d="M1604,807.3l5,9h-10z"/></g>
<g fill="#e8393c"><rect x="1512" y="793.2" width="8" height="8"/><rect x="1501" y="798.7" width="8" height="8"/><rect x="1523" y="802.8" width="8" height="8"/><rect x="1501" y="811" width="8" height="8"/>
<path d="M1671,682.3l4,5-4,5-4-5z"/><path d="M1671,730.4l4,5-4,5-4-5z"/><path d="M1660,742.7l4,5-4,5-4-5z"/><path d="M1682,746.9l4,5-4,5-4-5z"/><path d="M1671,759.2l4,5-4,5-4-5z"/></g>
<path d="M1419,738.1H1463M1438,710.7V765.6M1428,710.7H1448M1428,765.6H1448M1497,806.8H1535M1516,798.5V813.7M1506,798.5H1526M1506,813.7H1526M1574,794.4H1618M1593,773.8V815M1583,773.8H1603M1583,815H1603M1652,738.1H1696M1671,707.9V767M1661,707.9H1681M1661,767H1681" stroke="#000" stroke-width="2.5" fill="none"/>
<path d="M1438,699V692H1516V699M1593,676V669H1671V676" stroke="#000" stroke-width="2.5" fill="none"/>
<g font-size="22" font-weight="bold" text-anchor="middle" letter-spacing="1"><text x="1477" y="697">**</text><text x="1632" y="674">**</text></g>

<!-- ===== H headers ===== -->
<g font-weight="bold" text-anchor="middle" font-size="18">
<text x="237" y="1018">Nampt KO</text><text x="656" y="1018">NAD<tspan dy="-7" font-size="12">+</tspan><tspan dy="7"> precursor</tspan></text>
<text x="137" y="1053">sgCtrl</text><text x="343" y="1053">sgNampt</text><text x="545" y="1053">Ctrl</text><text x="758" y="1053">NMN</text>
<text x="1125" y="1017">Nampt KO</text><text x="1544" y="1017">NAD<tspan dy="-7" font-size="12">+</tspan><tspan dy="7"> precursor</tspan></text>
<text x="1025" y="1053">sgCtrl</text><text x="1232" y="1053">sgNampt</text><text x="1432" y="1053">Ctrl</text><text x="1647" y="1053">NMN</text>
</g>
<path d="M65,1027H414M473,1027H822M952,1026H1302M1361,1026H1710" stroke="#000" stroke-width="4"/>

<!-- arrows -->
<g fill="#000" stroke="none">
<rect x="50" y="1255" width="775" height="5"/><polygon points="822,1246 842,1257.5 822,1269"/>
<rect x="923" y="1252" width="803" height="5"/><polygon points="1724,1243 1744,1254.5 1724,1266"/>
<rect x="921" y="1066" width="5" height="191"/><polygon points="912,1068 923.5,1048 935,1068"/>
<rect x="49" y="1487" width="776" height="5"/><polygon points="822,1478 842,1489.5 822,1501"/>
<rect x="946" y="1487" width="778" height="5"/><polygon points="1721,1478 1741,1489.5 1721,1501"/>
<rect x="45" y="1727" width="774" height="5"/><polygon points="816,1718 836,1729.5 816,1741"/>
<rect x="946" y="1728" width="775" height="5"/><polygon points="1718,1719 1738,1730.5 1718,1742"/>
</g>
<g font-weight="bold" text-anchor="middle" font-size="17">
<text x="452" y="1284">%CD8<tspan dy="-7" font-size="11">+</tspan><tspan dy="7"> T cells</tspan></text>
<text x="1338" y="1281" font-size="18">CD62L</text>
<text transform="translate(912,1148) rotate(-90)" font-size="18">CD44</text>
<text x="443" y="1519">%PD-1<tspan dy="-7" font-size="11">+</tspan><tspan dy="7"> of CD8</tspan><tspan dy="-7" font-size="11">+</tspan><tspan dy="7"> T cells</tspan></text>
<text x="1355" y="1518">%CD107a<tspan dy="-7" font-size="11">+</tspan><tspan dy="7"> of CD8</tspan><tspan dy="-7" font-size="11">+</tspan><tspan dy="7"> T cells</tspan></text>
<text x="438" y="1759">%IFNγ<tspan dy="-7" font-size="11">+</tspan><tspan dy="7"> of CD8</tspan><tspan dy="-7" font-size="11">+</tspan><tspan dy="7"> T cells</tspan></text>
<text x="1344" y="1759">%TNFα<tspan dy="-7" font-size="11">+</tspan><tspan dy="7"> of CD8</tspan><tspan dy="-7" font-size="11">+</tspan><tspan dy="7"> T cells</tspan></text>
</g>

<!-- ===== H row1 left (CD8) ===== -->
<svg x="52" y="1066" width="163" height="163" viewBox="0 0 100 100" overflow="visible">
<rect width="100" height="100" fill="#fff" stroke="#777" stroke-width=".6"/><path d="M0,0V100H100" fill="none" stroke="#333" stroke-width=".6"/>
<line x1="0" y1="101.5" x2="100" y2="101.5" stroke="#333" stroke-width="2.5" stroke-dasharray=".35 2.2"/><line x1="-1.5" y1="0" x2="-1.5" y2="100" stroke="#333" stroke-width="2.5" stroke-dasharray=".35 3"/>
<g font-size="4.6" fill="#333" text-anchor="end"><text x="-3" y="7.5">250K</text><text x="-3" y="26">200K</text><text x="-3" y="44.5">150K</text><text x="-3" y="63.5">100K</text><text x="-3" y="82.5">50K</text><text x="-3" y="100.5">0</text></g>
<g font-size="5" fill="#333" text-anchor="middle"><text x="9" y="112">0</text><text x="20" y="112">10²</text><text x="43" y="112">10³</text><text x="65" y="112">10⁴</text><text x="86" y="112">10⁵</text></g>
<path d="M0,42 L3,60 L15,60 L20,50 L27,47 L38,46 L40,52 L48,52 L52,40 L58,37 L60,45 L60,60 L62,80 L60,88 L48,88 L45,94 L30,96 L5,95 L0,90Z" fill="url(#gB)" stroke="#3a86d4" stroke-width="1.3" stroke-linejoin="round"/>
<ellipse cx="55" cy="72" rx="4" ry="9" fill="#8ab6e2" opacity=".6"/>
<g fill="none" stroke="#fff" stroke-width=".6"><ellipse cx="22" cy="82" rx="18" ry="11"/><ellipse cx="24" cy="86" rx="12" ry="7"/><ellipse cx="24" cy="87" rx="7" ry="4"/><ellipse cx="24" cy="87" rx="3" ry="2"/></g>
<rect x="45" y="18" width="38" height="79" fill="none" stroke="#222" stroke-width=".7"/>
<text x="64" y="10" font-size="8.5" text-anchor="middle">CD8+</text><rect x="52" y="14" width="24" height="8" fill="#fff"/><text x="64" y="21" font-size="8.5" text-anchor="middle">6.94%</text>
</svg>
<svg x="260" y="1064" width="163" height="163" viewBox="0 0 100 100" overflow="visible">
<rect width="100" height="100" fill="#fff" stroke="#777" stroke-width=".6"/><path d="M0,0V100H100" fill="none" stroke="#333" stroke-width=".6"/>
<line x1="0" y1="101.5" x2="100" y2="101.5" stroke="#333" stroke-width="2.5" stroke-dasharray=".35 2.2"/><line x1="-1.5" y1="0" x2="-1.5" y2="100" stroke="#333" stroke-width="2.5" stroke-dasharray=".35 3"/>
<g font-size="4.6" fill="#333" text-anchor="end"><text x="-3" y="7.5">250K</text><text x="-3" y="26">200K</text><text x="-3" y="44.5">150K</text><text x="-3" y="63.5">100K</text><text x="-3" y="82.5">50K</text><text x="-3" y="100.5">0</text></g>
<g font-size="5" fill="#333" text-anchor="middle"><text x="9" y="112">0</text><text x="20" y="112">10²</text><text x="43" y="112">10³</text><text x="65" y="112">10⁴</text><text x="86" y="112">10⁵</text></g>
<path d="M0,40 L2,63 L12,62 L20,50 L28,45 L32,36 L38,44 L45,36 L52,30 L59,27 L61,40 L60,60 L62,80 L55,86 L40,90 L30,95 L5,95 L0,90Z" fill="url(#gB)" stroke="#3a86d4" stroke-width="1.3" stroke-linejoin="round"/>
<ellipse cx="53" cy="78" rx="5" ry="6" fill="#8ab6e2" opacity=".6"/>
<g fill="none" stroke="#fff" stroke-width=".6"><ellipse cx="22" cy="80" rx="18" ry="13"/><ellipse cx="24" cy="84" rx="12" ry="8"/><ellipse cx="22" cy="84" rx="6" ry="4"/><ellipse cx="30" cy="87" rx="4" ry="3"/></g>
<rect x="45" y="17.5" width="37" height="79" fill="none" stroke="#222" stroke-width=".7"/>
<text x="64" y="10" font-size="8.5" text-anchor="middle">CD8+</text><rect x="52" y="13.5" width="24" height="8" fill="#fff"/><text x="64" y="20.5" font-size="8.5" text-anchor="middle">14.4%</text>
</svg>
<svg x="467" y="1062" width="163" height="163" viewBox="0 0 100 100" overflow="visible">
<rect width="100" height="100" fill="#fff" stroke="#777" stroke-width=".6"/><path d="M0,0V100H100" fill="none" stroke="#333" stroke-width=".6"/>
<line x1="0" y1="101.5" x2="100" y2="101.5" stroke="#333" stroke-width="2.5" stroke-dasharray=".35 2.2"/><line x1="-1.5" y1="0" x2="-1.5" y2="100" stroke="#333" stroke-width="2.5" stroke-dasharray=".35 3"/>
<g font-size="4.6" fill="#333" text-anchor="end"><text x="-3" y="7.5">250K</text><text x="-3" y="26">200K</text><text x="-3" y="44.5">150K</text><text x="-3" y="63.5">100K</text><text x="-3" y="82.5">50K</text><text x="-3" y="100.5">0</text></g>
<g font-size="5" fill="#333" text-anchor="middle"><text x="9" y="112">0</text><text x="20" y="112">10²</text><text x="43" y="112">10³</text><text x="65" y="112">10⁴</text><text x="86" y="112">10⁵</text></g>
<path d="M0,54 L3,66 L10,66 L16,56 L22,50 L30,44 L35,52 L45,50 L52,45 L57,41 L62,46 L64,65 L64,80 L55,88 L45,88 L40,94 L5,95 L0,90Z" fill="url(#gB)" stroke="#3a86d4" stroke-width="1.3" stroke-linejoin="round"/>
<ellipse cx="57" cy="77" rx="5" ry="7" fill="#8ab6e2" opacity=".6"/>
<g fill="none" stroke="#fff" stroke-width=".6"><ellipse cx="22" cy="82" rx="18" ry="11"/><ellipse cx="22" cy="86" rx="12" ry="7"/><ellipse cx="22" cy="87" rx="6" ry="4"/></g>
<rect x="47" y="18" width="37" height="80" fill="none" stroke="#222" stroke-width=".7"/>
<text x="65" y="10" font-size="8.5" text-anchor="middle">CD8+</text><rect x="53" y="14" width="24" height="8" fill="#fff"/><text x="65" y="21" font-size="8.5" text-anchor="middle">8.38%</text>
</svg>
<svg x="672" y="1061" width="163" height="163" viewBox="0 0 100 100" overflow="visible">
<rect width="100" height="100" fill="#fff" stroke="#777" stroke-width=".6"/><path d="M0,0V100H100" fill="none" stroke="#333" stroke-width=".6"/>
<line x1="0" y1="101.5" x2="100" y2="101.5" stroke="#333" stroke-width="2.5" stroke-dasharray=".35 2.2"/><line x1="-1.5" y1="0" x2="-1.5" y2="100" stroke="#333" stroke-width="2.5" stroke-dasharray=".35 3"/>
<g font-size="4.6" fill="#333" text-anchor="end"><text x="-3" y="7.5">250K</text><text x="-3" y="26">200K</text><text x="-3" y="44.5">150K</text><text x="-3" y="63.5">100K</text><text x="-3" y="82.5">50K</text><text x="-3" y="100.5">0</text></g>
<g font-size="5" fill="#333" text-anchor="middle"><text x="9" y="112">0</text><text x="20" y="112">10²</text><text x="43" y="112">10³</text><text x="65" y="112">10⁴</text><text x="86" y="112">10⁵</text></g>
<path d="M0,39 L3,67 L10,64 L18,52 L30,44 L34,50 L38,58 L38,80 L36,88 L30,94 L5,96 L0,92Z" fill="url(#gB)" stroke="#3a86d4" stroke-width="1.3" stroke-linejoin="round"/>
<path d="M47,74 Q50,56 56,57 Q60,62 60,75 Q62,86 55,87 Q46,86 47,74Z" fill="url(#gB)" stroke="#3a86d4" stroke-width="1.3"/>
<g fill="none" stroke="#fff" stroke-width=".6"><ellipse cx="20" cy="82" rx="15" ry="10"/><ellipse cx="20" cy="84" rx="10" ry="7"/><ellipse cx="20" cy="85" rx="5" ry="4"/></g>
<rect x="45" y="18" width="37" height="79" fill="none" stroke="#222" stroke-width=".7"/>
<text x="63" y="10" font-size="8.5" text-anchor="middle">CD8+</text><rect x="51" y="14" width="24" height="8" fill="#fff"/><text x="63" y="21" font-size="8.5" text-anchor="middle">3.70%</text>
</svg>

<!-- ===== H row1 right (CD44/CD62L) ===== -->
<svg x="950" y="1061" width="163" height="163" viewBox="0 0 100 100" overflow="visible">
<rect width="100" height="100" fill="#fff" stroke="#777" stroke-width=".6"/><path d="M0,0V100H100" fill="none" stroke="#333" stroke-width=".6"/>
<line x1="0" y1="101.5" x2="100" y2="101.5" stroke="#333" stroke-width="2.5" stroke-dasharray=".35 2.2"/><line x1="-1.5" y1="0" x2="-1.5" y2="100" stroke="#333" stroke-width="2.5" stroke-dasharray=".35 3"/>
<g font-size="4.8" fill="#333" text-anchor="end"><text x="-3" y="12">10⁵</text><text x="-3" y="32">10⁴</text><text x="-3" y="52">10³</text><text x="-3" y="72">10²</text><text x="-3" y="92">10¹</text></g>
<g font-size="5" fill="#333" text-anchor="middle"><text x="12" y="112">10¹</text><text x="30" y="112">10²</text><text x="48" y="112">10³</text><text x="67" y="112">10⁴</text><text x="86" y="112">10⁵</text></g>
<path d="M0,40 L3,50 L0,58Z" fill="#7fb0e0"/>
<path d="M2,50 L5,38 L12,30 L22,24 L35,20 L45,17 L55,20 L58,32 L56,52 L50,62 L42,68 L32,72 L24,71 L16,67 L8,60Z" fill="url(#gB2)" stroke="#3a86d4" stroke-width="1.3" stroke-linejoin="round"/>
<g fill="none" stroke="#fff" stroke-width=".6" transform="rotate(-35 30 45)"><ellipse cx="30" cy="45" rx="20" ry="14"/><ellipse cx="30" cy="45" rx="13" ry="9"/><ellipse cx="30" cy="45" rx="7" ry="5"/></g>
<g fill="none" stroke="#222" stroke-width=".7"><rect x="5.5" y="19" width="24.5" height="37"/><rect x="32" y="42.5" width="24" height="27.5"/></g>
<g font-size="6.8" fill="#000"><text x="2" y="7">CD44+CD62L-</text><text x="2" y="15">44.1%</text><text x="27" y="83">CD44-CD62L+</text><text x="27" y="91">22.6%</text></g>
</svg>
<svg x="1154" y="1061" width="163" height="163" viewBox="0 0 100 100" overflow="visible">
<rect width="100" height="100" fill="#fff" stroke="#777" stroke-width=".6"/><path d="M0,0V100H100" fill="none" stroke="#333" stroke-width=".6"/>
<line x1="0" y1="101.5" x2="100" y2="101.5" stroke="#333" stroke-width="2.5" stroke-dasharray=".35 2.2"/><line x1="-1.5" y1="0" x2="-1.5" y2="100" stroke="#333" stroke-width="2.5" stroke-dasharray=".35 3"/>
<g font-size="4.8" fill="#333" text-anchor="end"><text x="-3" y="12">10⁵</text><text x="-3" y="32">10⁴</text><text x="-3" y="52">10³</text><text x="-3" y="72">10²</text><text x="-3" y="92">10¹</text></g>
<g font-size="5" fill="#333" text-anchor="middle"><text x="12" y="112">10¹</text><text x="30" y="112">10²</text><text x="48" y="112">10³</text><text x="67" y="112">10⁴</text><text x="86" y="112">10⁵</text></g>
<path d="M0,42 L4,50 L0,60Z" fill="#7fb0e0"/>
<path d="M5,55 L8,40 L15,30 L25,25 L40,22 L52,20 L53,35 L50,50 L45,60 L35,68 L25,72 L15,70 L8,64Z" fill="url(#gB2)" stroke="#3a86d4" stroke-width="1.3" stroke-linejoin="round"/>
<g fill="none" stroke="#fff" stroke-width=".6" transform="rotate(-40 26 47)"><ellipse cx="26" cy="47" rx="18" ry="12"/><ellipse cx="26" cy="47" rx="12" ry="8"/><ellipse cx="26" cy="47" rx="6" ry="4"/></g>
<g fill="none" stroke="#222" stroke-width=".7"><rect x="6" y="19" width="24" height="37"/><rect x="33" y="42" width="23" height="28"/></g>
<g font-size="6.8" fill="#000"><text x="2" y="7">CD44+CD62L-</text><text x="2" y="15">57.7%</text><text x="27" y="83">CD44-CD62L+</text><text x="27" y="91">13.1%</text></g>
</svg>
<svg x="1362" y="1060" width="163" height="163" viewBox="0 0 100 100" overflow="visible">
<rect width="100" height="100" fill="#fff" stroke="#777" stroke-width=".6"/><path d="M0,0V100H100" fill="none" stroke="#333" stroke-width=".6"/>
<line x1="0" y1="101.5" x2="100" y2="101.5" stroke="#333" stroke-width="2.5" stroke-dasharray=".35 2.2"/><line x1="-1.5" y1="0" x2="-1.5" y2="100" stroke="#333" stroke-width="2.5" stroke-dasharray=".35 3"/>
<g font-size="4.8" fill="#333" text-anchor="end"><text x="-3" y="12">10⁵</text><text x="-3" y="32">10⁴</text><text x="-3" y="52">10³</text><text x="-3" y="72">10²</text><text x="-3" y="92">10¹</text></g>
<g font-size="5" fill="#333" text-anchor="middle"><text x="12" y="112">10¹</text><text x="30" y="112">10²</text><text x="48" y="112">10³</text><text x="67" y="112">10⁴</text><text x="86" y="112">10⁵</text></g>
<path d="M0,50 L4,60 L0,72Z" fill="#7fb0e0"/>
<path d="M2,58 L5,45 L15,35 L25,30 L35,28 L45,32 L52,38 L54,52 L48,62 L38,70 L25,76 L12,74 L4,68Z" fill="url(#gB2)" stroke="#3a86d4" stroke-width="1.3" stroke-linejoin="round"/>
<g fill="none" stroke="#fff" stroke-width=".6" transform="rotate(-35 26 52)"><ellipse cx="26" cy="52" rx="18" ry="13"/><ellipse cx="26" cy="52" rx="12" ry="8"/><ellipse cx="26" cy="52" rx="6" ry="4"/></g>
<g fill="none" stroke="#222" stroke-width=".7"><rect x="5" y="18" width="25" height="37"/><rect x="32" y="42" width="23" height="28"/></g>
<g font-size="6.8" fill="#000"><text x="2" y="7">CD44+CD62L-</text><text x="2" y="15">50.9%</text><text x="27" y="83">CD44-CD62L+</text><text x="27" y="91">12.9%</text></g>
</svg>
<svg x="1566" y="1059" width="163" height="163" viewBox="0 0 100 100" overflow="visible">
<rect width="100" height="100" fill="#fff" stroke="#777" stroke-width=".6"/><path d="M0,0V100H100" fill="none" stroke="#333" stroke-width=".6"/>
<line x1="0" y1="101.5" x2="100" y2="101.5" stroke="#333" stroke-width="2.5" stroke-dasharray=".35 2.2"/><line x1="-1.5" y1="0" x2="-1.5" y2="100" stroke="#333" stroke-width="2.5" stroke-dasharray=".35 3"/>
<g font-size="4.8" fill="#333" text-anchor="end"><text x="-3" y="12">10⁵</text><text x="-3" y="32">10⁴</text><text x="-3" y="52">10³</text><text x="-3" y="72">10²</text><text x="-3" y="92">10¹</text></g>
<g font-size="5" fill="#333" text-anchor="middle"><text x="12" y="112">10¹</text><text x="30" y="112">10²</text><text x="48" y="112">10³</text><text x="67" y="112">10⁴</text><text x="86" y="112">10⁵</text></g>
<path d="M0,30 L3,40 L0,48Z" fill="#7fb0e0"/>
<path d="M5,45 L10,30 L20,22 L32,18 L42,20 L52,28 L55,40 L50,55 L42,60 L30,62 L18,60 L8,55Z" fill="url(#gB2)" stroke="#3a86d4" stroke-width="1.3" stroke-linejoin="round"/>
<g fill="none" stroke="#fff" stroke-width=".6" transform="rotate(-25 32 38)"><ellipse cx="32" cy="38" rx="18" ry="13"/><ellipse cx="32" cy="38" rx="12" ry="8"/><ellipse cx="32" cy="38" rx="6" ry="4"/></g>
<g fill="none" stroke="#222" stroke-width=".7"><rect x="5" y="18" width="25" height="37"/><rect x="33" y="42" width="23" height="28"/></g>
<g font-size="6.8" fill="#000"><text x="2" y="7">CD44+CD62L-</text><text x="2" y="15">37.1%</text><text x="27" y="83">CD44-CD62L+</text><text x="27" y="91">17.3%</text></g>
</svg>

<!-- ===== H row2 left (PD-1) ===== -->
<svg x="52" y="1304" width="159" height="159" viewBox="0 0 100 100" overflow="visible">
<rect width="100" height="100" fill="#fff" stroke="#777" stroke-width=".6"/><path d="M0,0V100H100" fill="none" stroke="#333" stroke-width=".6"/>
<line x1="0" y1="101.5" x2="100" y2="101.5" stroke="#333" stroke-width="2.5" stroke-dasharray=".35 2.2"/><line x1="-1.5" y1="0" x2="-1.5" y2="100" stroke="#333" stroke-width="2.5" stroke-dasharray=".35 3"/>
<g font-size="4.6" fill="#333" text-anchor="end"><text x="-3" y="7.5">250K</text><text x="-3" y="26">200K</text><text x="-3" y="44.5">150K</text><text x="-3" y="63.5">100K</text><text x="-3" y="82.5">50K</text><text x="-3" y="100.5">0</text></g>
<g font-size="5" fill="#333" text-anchor="middle"><text x="9" y="112">0</text><text x="20" y="112">10²</text><text x="43" y="112">10³</text><text x="65" y="112">10⁴</text><text x="86" y="112">10⁵</text></g>
<path d="M15,80 L20,68 L30,52 L40,35 L48,22 L56,20 L62,28 L70,40 L72,60 L68,80 L60,87 L45,90 L25,90 L15,86Z" fill="url(#gO)" stroke="#f08a24" stroke-width="1.3" stroke-linejoin="round"/>
<g fill="none" stroke="#fff" stroke-width=".6"><ellipse cx="42" cy="78" rx="16" ry="9"/><ellipse cx="42" cy="79" rx="10" ry="6"/><ellipse cx="42" cy="80" rx="5" ry="3"/><ellipse cx="58" cy="70" rx="4" ry="6"/></g>
<rect x="56" y="12" width="34" height="83" fill="none" stroke="#222" stroke-width=".7"/>
<text x="73" y="8" font-size="8.5" text-anchor="middle">PD-1+</text><rect x="61" y="9" width="24" height="9" fill="#fff"/><text x="73" y="17.5" font-size="8.5" text-anchor="middle">32.7%</text>
</svg>
<svg x="258" y="1303" width="159" height="159" viewBox="0 0 100 100" overflow="visible">
<rect width="100" height="100" fill="#fff" stroke="#777" stroke-width=".6"/><path d="M0,0V100H100" fill="none" stroke="#333" stroke-width=".6"/>
<line x1="0" y1="101.5" x2="100" y2="101.5" stroke="#333" stroke-width="2.5" stroke-dasharray=".35 2.2"/><line x1="-1.5" y1="0" x2="-1.5" y2="100" stroke="#333" stroke-width="2.5" stroke-dasharray=".35 3"/>
<g font-size="4.6" fill="#333" text-anchor="end"><text x="-3" y="7.5">250K</text><text x="-3" y="26">200K</text><text x="-3" y="44.5">150K</text><text x="-3" y="63.5">100K</text><text x="-3" y="82.5">50K</text><text x="-3" y="100.5">0</text></g>
<g font-size="5" fill="#333" text-anchor="middle"><text x="9" y="112">0</text><text x="20" y="112">10²</text><text x="43" y="112">10³</text><text x="65" y="112">10⁴</text><text x="86" y="112">10⁵</text></g>
<path d="M14,80 L22,62 L30,50 L36,35 L45,25 L55,21 L60,32 L64,50 L65,70 L62,85 L45,92 L22,90Z" fill="url(#gO)" stroke="#f08a24" stroke-width="1.3" stroke-linejoin="round"/>
<g fill="none" stroke="#fff" stroke-width=".6"><ellipse cx="38" cy="78" rx="16" ry="10"/><ellipse cx="38" cy="80" rx="10" ry="6"/><ellipse cx="38" cy="81" rx="5" ry="3"/></g>
<rect x="56" y="12" width="34" height="83" fill="none" stroke="#222" stroke-width=".7"/>
<text x="73" y="8" font-size="8.5" text-anchor="middle">PD-1+</text><rect x="61" y="9" width="24" height="9" fill="#fff"/><text x="73" y="17.5" font-size="8.5" text-anchor="middle">14.3%</text>
</svg>
<svg x="470" y="1303" width="159" height="159" viewBox="0 0 100 100" overflow="visible">
<rect width="100" height="100" fill="#fff" stroke="#777" stroke-width=".6"/><path d="M0,0V100H100" fill="none" stroke="#333" stroke-width=".6"/>
<line x1="0" y1="101.5" x2="100" y2="101.5" stroke="#333" stroke-width="2.5" stroke-dasharray=".35 2.2"/><line x1="-1.5" y1="0" x2="-1.5" y2="100" stroke="#333" stroke-width="2.5" stroke-dasharray=".35 3"/>
<g font-size="4.6" fill="#333" text-anchor="end"><text x="-3" y="7.5">250K</text><text x="-3" y="26">200K</text><text x="-3" y="44.5">150K</text><text x="-3" y="63.5">100K</text><text x="-3" y="82.5">50K</text><text x="-3" y="100.5">0</text></g>
<g font-size="5" fill="#333" text-anchor="middle"><text x="9" y="112">0</text><text x="20" y="112">10²</text><text x="43" y="112">10³</text><text x="65" y="112">10⁴</text><text x="86" y="112">10⁵</text></g>
<path d="M25,78 L33,62 L40,45 L45,32 L52,25 L60,24 L68,38 L70,55 L65,75 L58,85 L45,90 L30,88Z" fill="url(#gO)" stroke="#f08a24" stroke-width="1.3" stroke-linejoin="round"/>
<g fill="none" stroke="#fff" stroke-width=".6"><ellipse cx="48" cy="78" rx="14" ry="9"/><ellipse cx="50" cy="79" rx="9" ry="6"/><ellipse cx="51" cy="80" rx="4" ry="3"/></g>
<rect x="58" y="12" width="32" height="80" fill="none" stroke="#222" stroke-width=".7"/>
<text x="74" y="8" font-size="8.5" text-anchor="middle">PD-1+</text><rect x="62" y="9" width="24" height="9" fill="#fff"/><text x="74" y="17.5" font-size="8.5" text-anchor="middle">31.8%</text>
</svg>
<svg x="673" y="1299" width="159" height="159" viewBox="0 0 100 100" overflow="visible">
<rect width="100" height="100" fill="#fff" stroke="#777" stroke-width=".6"/><path d="M0,0V100H100" fill="none" stroke="#333" stroke-width=".6"/>
<line x1="0" y1="101.5" x2="100" y2="101.5" stroke="#333" stroke-width="2.5" stroke-dasharray=".35 2.2"/><line x1="-1.5" y1="0" x2="-1.5" y2="100" stroke="#333" stroke-width="2.5" stroke-dasharray=".35 3"/>
<g font-size="4.6" fill="#333" text-anchor="end"><text x="-3" y="7.5">250K</text><text x="-3" y="26">200K</text><text x="-3" y="44.5">150K</text><text x="-3" y="63.5">100K</text><text x="-3" y="82.5">50K</text><text x="-3" y="100.5">0</text></g>
<g font-size="5" fill="#333" text-anchor="middle"><text x="9" y="112">0</text><text x="20" y="112">10²</text><text x="43" y="112">10³</text><text x="65" y="112">10⁴</text><text x="86" y="112">10⁵</text></g>
<path d="M35,72 L40,58 L50,40 L55,33 L60,28 L66,24 L70,38 L72,55 L68,75 L58,86 L45,88 L38,85Z" fill="url(#gO)" stroke="#f08a24" stroke-width="1.3" stroke-linejoin="round"/>
<g fill="none" stroke="#fff" stroke-width=".6"><ellipse cx="54" cy="76" rx="13" ry="9"/><ellipse cx="55" cy="77" rx="8" ry="6"/><ellipse cx="55" cy="78" rx="4" ry="3"/></g>
<rect x="58" y="12" width="32" height="80" fill="none" stroke="#222" stroke-width=".7"/>
<text x="74" y="8" font-size="8.5" text-anchor="middle">PD-1+</text><rect x="62" y="9" width="24" height="9" fill="#fff"/><text x="74" y="17.5" font-size="8.5" text-anchor="middle">46.8%</text>
</svg>

<!-- ===== H row2 right (CD107a) ===== -->
<svg x="945" y="1300" width="163" height="163" viewBox="0 0 100 100" overflow="visible">
<rect width="100" height="100" fill="#fff" stroke="#777" stroke-width=".6"/><path d="M0,0V100H100" fill="none" stroke="#333" stroke-width=".6"/>
<line x1="0" y1="101.5" x2="100" y2="101.5" stroke="#333" stroke-width="2.5" stroke-dasharray=".35 2.2"/><line x1="-1.5" y1="0" x2="-1.5" y2="100" stroke="#333" stroke-width="2.5" stroke-dasharray=".35 3"/>
<g font-size="4.6" fill="#333" text-anchor="end"><text x="-3" y="7.5">250K</text><text x="-3" y="26">200K</text><text x="-3" y="44.5">150K</text><text x="-3" y="63.5">100K</text><text x="-3" y="82.5">50K</text><text x="-3" y="100.5">0</text></g>
<g font-size="5" fill="#333" text-anchor="middle"><text x="9" y="112">0</text><text x="20" y="112">10²</text><text x="43" y="112">10³</text><text x="65" y="112">10⁴</text><text x="86" y="112">10⁵</text></g>
<path d="M10,80 L20,65 L30,48 L38,30 L48,22 L58,20 L62,35 L68,45 L70,65 L65,80 L55,88 L35,90 L15,88Z" fill="url(#gO)" stroke="#f08a24" stroke-width="1.3" stroke-linejoin="round"/>
<g fill="none" stroke="#fff" stroke-width=".6"><ellipse cx="30" cy="78" rx="16" ry="9"/><ellipse cx="30" cy="79" rx="10" ry="6"/><ellipse cx="30" cy="80" rx="5" ry="3"/><ellipse cx="50" cy="50" rx="4" ry="10"/></g>
<rect x="43" y="6.5" width="50" height="88" fill="none" stroke="#222" stroke-width=".7"/>
<rect x="50" y="1" width="39" height="8" fill="#fff"/><text x="70" y="8" font-size="8.5" text-anchor="middle">CD107a+</text><text x="63" y="20" font-size="8.5" text-anchor="middle">41.5%</text>
</svg>
<svg x="1153" y="1300" width="163" height="163" viewBox="0 0 100 100" overflow="visible">
<rect width="100" height="100" fill="#fff" stroke="#777" stroke-width=".6"/><path d="M0,0V100H100" fill="none" stroke="#333" stroke-width=".6"/>
<line x1="0" y1="101.5" x2="100" y2="101.5" stroke="#333" stroke-width="2.5" stroke-dasharray=".35 2.2"/><line x1="-1.5" y1="0" x2="-1.5" y2="100" stroke="#333" stroke-width="2.5" stroke-dasharray=".35 3"/>
<g font-size="4.6" fill="#333" text-anchor="end"><text x="-3" y="7.5">250K</text><text x="-3" y="26">200K</text><text x="-3" y="44.5">150K</text><text x="-3" y="63.5">100K</text><text x="-3" y="82.5">50K</text><text x="-3" y="100.5">0</text></g>
<g font-size="5" fill="#333" text-anchor="middle"><text x="9" y="112">0</text><text x="20" y="112">10²</text><text x="43" y="112">10³</text><text x="65" y="112">10⁴</text><text x="86" y="112">10⁵</text></g>
<path d="M15,78 L25,62 L35,45 L45,30 L52,22 L58,22 L65,35 L72,55 L72,75 L65,88 L40,90 L18,88Z" fill="url(#gO)" stroke="#f08a24" stroke-width="1.3" stroke-linejoin="round"/>
<g fill="none" stroke="#fff" stroke-width=".6"><ellipse cx="35" cy="78" rx="16" ry="9"/><ellipse cx="36" cy="79" rx="10" ry="6"/><ellipse cx="48" cy="60" rx="5" ry="14"/></g>
<rect x="43" y="6.5" width="50" height="88" fill="none" stroke="#222" stroke-width=".7"/>
<rect x="50" y="1" width="39" height="8" fill="#fff"/><text x="70" y="8" font-size="8.5" text-anchor="middle">CD107a+</text><text x="63" y="20" font-size="8.5" text-anchor="middle">66.0%</text>
</svg>
<svg x="1359" y="1298" width="163" height="163" viewBox="0 0 100 100" overflow="visible">
<rect width="100" height="100" fill="#fff" stroke="#777" stroke-width=".6"/><path d="M0,0V100H100" fill="none" stroke="#333" stroke-width=".6"/>
<line x1="0" y1="101.5" x2="100" y2="101.5" stroke="#333" stroke-width="2.5" stroke-dasharray=".35 2.2"/><line x1="-1.5" y1="0" x2="-1.5" y2="100" stroke="#333" stroke-width="2.5" stroke-dasharray=".35 3"/>
<g font-size="4.6" fill="#333" text-anchor="end"><text x="-3" y="7.5">250K</text><text x="-3" y="26">200K</text><text x="-3" y="44.5">150K</text><text x="-3" y="63.5">100K</text><text x="-3" y="82.5">50K</text><text x="-3" y="100.5">0</text></g>
<g font-size="5" fill="#333" text-anchor="middle"><text x="9" y="112">0</text><text x="20" y="112">10²</text><text x="43" y="112">10³</text><text x="65" y="112">10⁴</text><text x="86" y="112">10⁵</text></g>
<path d="M10,78 L20,62 L30,50 L40,35 L50,25 L58,22 L65,35 L75,55 L78,72 L70,85 L50,90 L20,90Z" fill="url(#gO)" stroke="#f08a24" stroke-width="1.3" stroke-linejoin="round"/>
<g fill="none" stroke="#fff" stroke-width=".6"><ellipse cx="28" cy="78" rx="16" ry="9"/><ellipse cx="28" cy="79" rx="10" ry="6"/><ellipse cx="28" cy="80" rx="5" ry="3"/></g>
<rect x="43" y="6.5" width="50" height="88" fill="none" stroke="#222" stroke-width=".7"/>
<rect x="50" y="1" width="39" height="8" fill="#fff"/><text x="70" y="8" font-size="8.5" text-anchor="middle">CD107a+</text><text x="63" y="20" font-size="8.5" text-anchor="middle">41.4%</text>
</svg>
<svg x="1565" y="1299" width="163" height="163" viewBox="0 0 100 100" overflow="visible">
<rect width="100" height="100" fill="#fff" stroke="#777" stroke-width=".6"/><path d="M0,0V100H100" fill="none" stroke="#333" stroke-width=".6"/>
<line x1="0" y1="101.5" x2="100" y2="101.5" stroke="#333" stroke-width="2.5" stroke-dasharray=".35 2.2"/><line x1="-1.5" y1="0" x2="-1.5" y2="100" stroke="#333" stroke-width="2.5" stroke-dasharray=".35 3"/>
<g font-size="4.6" fill="#333" text-anchor="end"><text x="-3" y="7.5">250K</text><text x="-3" y="26">200K</text><text x="-3" y="44.5">150K</text><text x="-3" y="63.5">100K</text><text x="-3" y="82.5">50K</text><text x="-3" y="100.5">0</text></g>
<g font-size="5" fill="#333" text-anchor="middle"><text x="9" y="112">0</text><text x="20" y="112">10²</text><text x="43" y="112">10³</text><text x="65" y="112">10⁴</text><text x="86" y="112">10⁵</text></g>
<path d="M10,80 L18,66 L28,52 L38,38 L45,28 L52,22 L60,30 L62,50 L62,75 L58,88 L40,90 L15,88Z" fill="url(#gO)" stroke="#f08a24" stroke-width="1.3" stroke-linejoin="round"/>
<g fill="none" stroke="#fff" stroke-width=".6"><ellipse cx="25" cy="78" rx="14" ry="8"/><ellipse cx="25" cy="79" rx="9" ry="5"/><ellipse cx="25" cy="80" rx="4" ry="3"/></g>
<rect x="44" y="6.5" width="49" height="88" fill="none" stroke="#222" stroke-width=".7"/>
<rect x="51" y="1" width="39" height="8" fill="#fff"/><text x="71" y="8" font-size="8.5" text-anchor="middle">CD107a+</text><text x="64" y="20" font-size="8.5" text-anchor="middle">19.7%</text>
</svg>

<!-- ===== H row3 left (IFNg) ===== -->
<svg x="52" y="1542" width="160" height="160" viewBox="0 0 100 100" overflow="visible">
<rect width="100" height="100" fill="#fff" stroke="#777" stroke-width=".6"/><path d="M0,0V100H100" fill="none" stroke="#333" stroke-width=".6"/>
<line x1="0" y1="101.5" x2="100" y2="101.5" stroke="#333" stroke-width="2.5" stroke-dasharray=".35 2.2"/><line x1="-1.5" y1="0" x2="-1.5" y2="100" stroke="#333" stroke-width="2.5" stroke-dasharray=".35 3"/>
<g font-size="4.6" fill="#333" text-anchor="end"><text x="-3" y="7.5">250K</text><text x="-3" y="26">200K</text><text x="-3" y="44.5">150K</text><text x="-3" y="63.5">100K</text><text x="-3" y="82.5">50K</text><text x="-3" y="100.5">0</text></g>
<g font-size="5" fill="#333" text-anchor="middle"><text x="9" y="112">0</text><text x="20" y="112">10²</text><text x="43" y="112">10³</text><text x="65" y="112">10⁴</text><text x="86" y="112">10⁵</text></g>
<path d="M12,85 L15,78 L25,72 L28,62 L35,55 L40,52 L45,56 L45,62 L50,68 L55,72 L60,80 L62,92 L40,95 L15,94Z" fill="url(#gR)" stroke="#e02525" stroke-width="1.3" stroke-linejoin="round"/>
<ellipse cx="48" cy="45" rx="2.5" ry="5" fill="#f8d2d2" stroke="#e02525" stroke-width=".8"/><ellipse cx="58" cy="58" rx="2" ry="4" fill="#f8d2d2" stroke="#e02525" stroke-width=".8"/>
<g fill="none" stroke="#fff" stroke-width=".6"><ellipse cx="28" cy="84" rx="14" ry="7"/><ellipse cx="28" cy="85" rx="9" ry="4"/><ellipse cx="28" cy="85" rx="4" ry="2"/></g>
<rect x="47" y="18" width="38" height="77" fill="none" stroke="#222" stroke-width=".7"/>
<text x="66" y="8" font-size="8.5" text-anchor="middle">IFNγ+</text><rect x="54" y="13.5" width="24" height="9" fill="#fff"/><text x="66" y="21" font-size="8.5" text-anchor="middle">23.4%</text>
</svg>
<svg x="258" y="1540" width="160" height="160" viewBox="0 0 100 100" overflow="visible">
<rect width="100" height="100" fill="#fff" stroke="#777" stroke-width=".6"/><path d="M0,0V100H100" fill="none" stroke="#333" stroke-width=".6"/>
<line x1="0" y1="101.5" x2="100" y2="101.5" stroke="#333" stroke-width="2.5" stroke-dasharray=".35 2.2"/><line x1="-1.5" y1="0" x2="-1.5" y2="100" stroke="#333" stroke-width="2.5" stroke-dasharray=".35 3"/>
<g font-size="4.6" fill="#333" text-anchor="end"><text x="-3" y="7.5">250K</text><text x="-3" y="26">200K</text><text x="-3" y="44.5">150K</text><text x="-3" y="63.5">100K</text><text x="-3" y="82.5">50K</text><text x="-3" y="100.5">0</text></g>
<g font-size="5" fill="#333" text-anchor="middle"><text x="9" y="112">0</text><text x="20" y="112">10²</text><text x="43" y="112">10³</text><text x="65" y="112">10⁴</text><text x="86" y="112">10⁵</text></g>
<path d="M10,88 L15,78 L28,70 L32,55 L40,45 L45,40 L50,45 L55,55 L60,62 L63,75 L65,90 L40,95 L15,94Z" fill="url(#gR)" stroke="#e02525" stroke-width="1.3" stroke-linejoin="round"/>
<ellipse cx="52" cy="35" rx="2.5" ry="3" fill="#f8d2d2" stroke="#e02525" stroke-width=".8"/>
<g fill="none" stroke="#fff" stroke-width=".6"><ellipse cx="30" cy="84" rx="16" ry="7"/><ellipse cx="30" cy="85" rx="10" ry="4"/><ellipse cx="38" cy="64" rx="4" ry="4"/></g>
<rect x="47" y="18" width="39" height="77" fill="none" stroke="#222" stroke-width=".7"/>
<text x="66" y="8" font-size="8.5" text-anchor="middle">IFNγ+</text><rect x="54" y="13.5" width="24" height="9" fill="#fff"/><text x="66" y="21" font-size="8.5" text-anchor="middle">38.2%</text>
</svg>
<svg x="467" y="1540" width="160" height="160" viewBox="0 0 100 100" overflow="visible">
<rect width="100" height="100" fill="#fff" stroke="#777" stroke-width=".6"/><path d="M0,0V100H100" fill="none" stroke="#333" stroke-width=".6"/>
<line x1="0" y1="101.5" x2="100" y2="101.5" stroke="#333" stroke-width="2.5" stroke-dasharray=".35 2.2"/><line x1="-1.5" y1="0" x2="-1.5" y2="100" stroke="#333" stroke-width="2.5" stroke-dasharray=".35 3"/>
<g font-size="4.6" fill="#333" text-anchor="end"><text x="-3" y="7.5">250K</text><text x="-3" y="26">200K</text><text x="-3" y="44.5">150K</text><text x="-3" y="63.5">100K</text><text x="-3" y="82.5">50K</text><text x="-3" y="100.5">0</text></g>
<g font-size="5" fill="#333" text-anchor="middle"><text x="9" y="112">0</text><text x="20" y="112">10²</text><text x="43" y="112">10³</text><text x="65" y="112">10⁴</text><text x="86" y="112">10⁵</text></g>
<path d="M8,90 L12,80 L22,72 L30,65 L40,55 L48,40 L52,38 L55,55 L60,65 L65,75 L66,90 L40,95Z" fill="url(#gR)" stroke="#e02525" stroke-width="1.3" stroke-linejoin="round"/>
<g fill="none" stroke="#fff" stroke-width=".6"><ellipse cx="26" cy="84" rx="15" ry="7"/><ellipse cx="25" cy="85" rx="9" ry="4"/><ellipse cx="48" cy="70" rx="3" ry="14"/></g>
<rect x="47" y="18" width="39" height="77" fill="none" stroke="#222" stroke-width=".7"/>
<text x="66" y="8" font-size="8.5" text-anchor="middle">IFNγ+</text><rect x="54" y="13.5" width="24" height="9" fill="#fff"/><text x="66" y="21" font-size="8.5" text-anchor="middle">28.4%</text>
</svg>
<svg x="672" y="1538" width="160" height="160" viewBox="0 0 100 100" overflow="visible">
<rect width="100" height="100" fill="#fff" stroke="#777" stroke-width=".6"/><path d="M0,0V100H100" fill="none" stroke="#333" stroke-width=".6"/>
<line x1="0" y1="101.5" x2="100" y2="101.5" stroke="#333" stroke-width="2.5" stroke-dasharray=".35 2.2"/><line x1="-1.5" y1="0" x2="-1.5" y2="100" stroke="#333" stroke-width="2.5" stroke-dasharray=".35 3"/>
<g font-size="4.6" fill="#333" text-anchor="end"><text x="-3" y="7.5">250K</text><text x="-3" y="26">200K</text><text x="-3" y="44.5">150K</text><text x="-3" y="63.5">100K</text><text x="-3" y="82.5">50K</text><text x="-3" y="100.5">0</text></g>
<g font-size="5" fill="#333" text-anchor="middle"><text x="9" y="112">0</text><text x="20" y="112">10²</text><text x="43" y="112">10³</text><text x="65" y="112">10⁴</text><text x="86" y="112">10⁵</text></g>
<path d="M8,88 L12,78 L22,70 L32,60 L38,50 L42,45 L48,50 L55,55 L62,62 L66,78 L65,90 L40,95 L12,95Z" fill="url(#gR)" stroke="#e02525" stroke-width="1.3" stroke-linejoin="round"/>
<g fill="none" stroke="#fff" stroke-width=".6"><ellipse cx="25" cy="84" rx="15" ry="8"/><ellipse cx="24" cy="85" rx="9" ry="5"/><ellipse cx="23" cy="85" rx="4" ry="3"/></g>
<rect x="47" y="18" width="39" height="77" fill="none" stroke="#222" stroke-width=".7"/>
<text x="66" y="8" font-size="8.5" text-anchor="middle">IFNγ+</text><rect x="54" y="13.5" width="24" height="9" fill="#fff"/><text x="66" y="21" font-size="8.5" text-anchor="middle">13.9%</text>
</svg>

<!-- ===== H row3 right (TNFa) ===== -->
<svg x="945" y="1538" width="160" height="160" viewBox="0 0 100 100" overflow="visible">
<rect width="100" height="100" fill="#fff" stroke="#777" stroke-width=".6"/><path d="M0,0V100H100" fill="none" stroke="#333" stroke-width=".6"/>
<line x1="0" y1="101.5" x2="100" y2="101.5" stroke="#333" stroke-width="2.5" stroke-dasharray=".35 2.2"/><line x1="-1.5" y1="0" x2="-1.5" y2="100" stroke="#333" stroke-width="2.5" stroke-dasharray=".35 3"/>
<g font-size="4.6" fill="#333" text-anchor="end"><text x="-3" y="7.5">250K</text><text x="-3" y="26">200K</text><text x="-3" y="44.5">150K</text><text x="-3" y="63.5">100K</text><text x="-3" y="82.5">50K</text><text x="-3" y="100.5">0</text></g>
<g font-size="5" fill="#333" text-anchor="middle"><text x="9" y="112">0</text><text x="20" y="112">10²</text><text x="43" y="112">10³</text><text x="65" y="112">10⁴</text><text x="86" y="112">10⁵</text></g>
<path d="M10,88 L14,78 L22,72 L30,68 L32,58 L36,55 L40,60 L42,75 L48,85 L46,95 L25,97 L12,95Z" fill="url(#gR)" stroke="#e02525" stroke-width="1.3" stroke-linejoin="round"/>
<g fill="none" stroke="#fff" stroke-width=".6"><ellipse cx="22" cy="86" rx="10" ry="7"/><ellipse cx="22" cy="86" rx="6" ry="4"/><ellipse cx="22" cy="86" rx="3" ry="2"/></g>
<rect x="35" y="23" width="38" height="75" fill="none" stroke="#222" stroke-width=".7"/>
<text x="54" y="8" font-size="8.5" text-anchor="middle">TNFα+</text><text x="54" y="19" font-size="8.5" text-anchor="middle">20.5%</text>
</svg>
<svg x="1155" y="1538" width="160" height="160" viewBox="0 0 100 100" overflow="visible">
<rect width="100" height="100" fill="#fff" stroke="#777" stroke-width=".6"/><path d="M0,0V100H100" fill="none" stroke="#333" stroke-width=".6"/>
<line x1="0" y1="101.5" x2="100" y2="101.5" stroke="#333" stroke-width="2.5" stroke-dasharray=".35 2.2"/><line x1="-1.5" y1="0" x2="-1.5" y2="100" stroke="#333" stroke-width="2.5" stroke-dasharray=".35 3"/>
<g font-size="4.6" fill="#333" text-anchor="end"><text x="-3" y="7.5">250K</text><text x="-3" y="26">200K</text><text x="-3" y="44.5">150K</text><text x="-3" y="63.5">100K</text><text x="-3" y="82.5">50K</text><text x="-3" y="100.5">0</text></g>
<g font-size="5" fill="#333" text-anchor="middle"><text x="9" y="112">0</text><text x="20" y="112">10²</text><text x="43" y="112">10³</text><text x="65" y="112">10⁴</text><text x="86" y="112">10⁵</text></g>
<path d="M10,88 L14,78 L22,72 L30,65 L34,55 L40,50 L44,55 L48,72 L58,85 L58,95 L30,97 L12,95Z" fill="url(#gR)" stroke="#e02525" stroke-width="1.3" stroke-linejoin="round"/>
<g fill="none" stroke="#fff" stroke-width=".6"><ellipse cx="24" cy="86" rx="12" ry="7"/><ellipse cx="24" cy="86" rx="7" ry="4"/><ellipse cx="24" cy="86" rx="3" ry="2"/></g>
<rect x="36" y="23" width="37" height="75" fill="none" stroke="#222" stroke-width=".7"/>
<text x="55" y="8" font-size="8.5" text-anchor="middle">TNFα+</text><text x="55" y="19" font-size="8.5" text-anchor="middle">35.0%</text>
</svg>
<svg x="1360" y="1538" width="160" height="160" viewBox="0 0 100 100" overflow="visible">
<rect width="100" height="100" fill="#fff" stroke="#777" stroke-width=".6"/><path d="M0,0V100H100" fill="none" stroke="#333" stroke-width=".6"/>
<line x1="0" y1="101.5" x2="100" y2="101.5" stroke="#333" stroke-width="2.5" stroke-dasharray=".35 2.2"/><line x1="-1.5" y1="0" x2="-1.5" y2="100" stroke="#333" stroke-width="2.5" stroke-dasharray=".35 3"/>
<g font-size="4.6" fill="#333" text-anchor="end"><text x="-3" y="7.5">250K</text><text x="-3" y="26">200K</text><text x="-3" y="44.5">150K</text><text x="-3" y="63.5">100K</text><text x="-3" y="82.5">50K</text><text x="-3" y="100.5">0</text></g>
<g font-size="5" fill="#333" text-anchor="middle"><text x="9" y="112">0</text><text x="20" y="112">10²</text><text x="43" y="112">10³</text><text x="65" y="112">10⁴</text><text x="86" y="112">10⁵</text></g>
<path d="M10,88 L14,78 L22,72 L30,60 L34,48 L42,46 L52,52 L55,65 L58,85 L58,95 L30,97 L12,95Z" fill="url(#gR)" stroke="#e02525" stroke-width="1.3" stroke-linejoin="round"/>
<g fill="none" stroke="#fff" stroke-width=".6"><ellipse cx="24" cy="86" rx="12" ry="7"/><ellipse cx="24" cy="86" rx="7" ry="4"/><ellipse cx="44" cy="62" rx="4" ry="8"/></g>
<rect x="35" y="23" width="38" height="75" fill="none" stroke="#222" stroke-width=".7"/>
<text x="54" y="8" font-size="8.5" text-anchor="middle">TNFα+</text><text x="54" y="19" font-size="8.5" text-anchor="middle">32.8%</text>
</svg>
<svg x="1565" y="1537" width="160" height="160" viewBox="0 0 100 100" overflow="visible">
<rect width="100" height="100" fill="#fff" stroke="#777" stroke-width=".6"/><path d="M0,0V100H100" fill="none" stroke="#333" stroke-width=".6"/>
<line x1="0" y1="101.5" x2="100" y2="101.5" stroke="#333" stroke-width="2.5" stroke-dasharray=".35 2.2"/><line x1="-1.5" y1="0" x2="-1.5" y2="100" stroke="#333" stroke-width="2.5" stroke-dasharray=".35 3"/>
<g font-size="4.6" fill="#333" text-anchor="end"><text x="-3" y="7.5">250K</text><text x="-3" y="26">200K</text><text x="-3" y="44.5">150K</text><text x="-3" y="63.5">100K</text><text x="-3" y="82.5">50K</text><text x="-3" y="100.5">0</text></g>
<g font-size="5" fill="#333" text-anchor="middle"><text x="9" y="112">0</text><text x="20" y="112">10²</text><text x="43" y="112">10³</text><text x="65" y="112">10⁴</text><text x="86" y="112">10⁵</text></g>
<path d="M10,88 L14,78 L22,72 L32,65 L38,55 L42,55 L46,65 L48,80 L45,95 L25,97 L12,95Z" fill="url(#gR)" stroke="#e02525" stroke-width="1.3" stroke-linejoin="round"/>
<g fill="none" stroke="#fff" stroke-width=".6"><ellipse cx="24" cy="84" rx="11" ry="7"/><ellipse cx="24" cy="84" rx="6" ry="4"/><ellipse cx="24" cy="84" rx="3" ry="2"/></g>
<rect x="36" y="23" width="38" height="75" fill="none" stroke="#222" stroke-width=".7"/>
<text x="55" y="8" font-size="8.5" text-anchor="middle">TNFα+</text><text x="55" y="19" font-size="8.5" text-anchor="middle">16.2%</text>
</svg>

<!-- ===== I ===== -->
<!-- I1 -->
<path d="M58,1782V1927" stroke="#000" stroke-width="1.5"/><path d="M58,1927H284" stroke="#999" stroke-width="3"/>
<g font-size="8.5" text-anchor="end"><text x="54" y="1785">20</text><text x="54" y="1821">15</text><text x="54" y="1857.5">10</text><text x="54" y="1894">5</text><text x="54" y="1930">0</text></g>
<g fill="#000"><circle cx="95" cy="1869.7" r="2.8"/><circle cx="91" cy="1874.8" r="2.8"/><circle cx="99" cy="1874" r="2.8"/><circle cx="95" cy="1876.2" r="2.8"/>
<path d="M204,1836.5l3,5.5h-6z"/><path d="M204,1854.6l3,5.5h-6z"/><path d="M204,1865.5l3,5.5h-6z"/></g>
<g fill="#e8393c"><circle cx="150" cy="1822.6" r="2.8"/><circle cx="146" cy="1828.4" r="2.8"/><circle cx="154" cy="1828.4" r="2.8"/><circle cx="150" cy="1835.6" r="2.8"/>
<path d="M256,1894.5l3,-5.5h-6z"/><path d="M262,1894.5l3,-5.5h-6z"/><path d="M259,1900.5l3,-5.5h-6z"/></g>
<path d="M85,1873.4H105M95,1870.4V1876.2M90,1870.4H100M90,1876.2H100M140,1828.4H160M150,1822.6V1835M145,1822.6H155M145,1835H155M194,1854.5H214M204,1840V1869M199,1840H209M199,1869H209M249,1894.4H269M259,1891V1898M254,1891H264M254,1898H264" stroke="#000" stroke-width="2" fill="none"/>
<path d="M95,1812H150M204,1824H259" stroke="#000" stroke-width="2.5"/>
<g font-size="15" font-weight="bold" text-anchor="middle"><text x="122" y="1816">***</text><text x="231" y="1828">*</text></g>
<g font-size="8.5" text-anchor="middle"><text x="95" y="1941">sgCtrl</text><text x="150" y="1941">sgNampt</text><text x="204" y="1941">Ctrl</text><text x="259" y="1941">NMN</text><text x="123" y="1961">Nampt KO</text><text x="232" y="1961">NAD<tspan dy="-3" font-size="6">+</tspan><tspan dy="3"> precursor</tspan></text></g>
<path d="M78,1948H167M187,1948H277" stroke="#000" stroke-width="2"/>
<text transform="translate(48,1855) rotate(-90)" font-size="10" text-anchor="middle">%CD8<tspan dy="-3" font-size="7">+</tspan><tspan dy="3"> T cells</tspan></text>

<!-- I2 -->
<path d="M355,1785V1929" stroke="#000" stroke-width="1.5"/><path d="M355,1929H557" stroke="#999" stroke-width="3"/>
<g font-size="8.5" text-anchor="end"><text x="351" y="1788">100</text><text x="351" y="1817">80</text><text x="351" y="1846">60</text><text x="351" y="1874.5">40</text><text x="351" y="1903.5">20</text><text x="351" y="1932">0</text></g>
<g stroke="#000" stroke-width="1.2">
<rect x="366" y="1835.4" width="30" height="30.2" fill="#d9d9d9"/><rect x="366" y="1865.6" width="30" height="63.4" fill="#e8403f"/>
<rect x="420" y="1828.2" width="30" height="21.6" fill="#d9d9d9"/><rect x="420" y="1849.8" width="30" height="79.2" fill="#e8403f"/>
<rect x="467" y="1839.7" width="30" height="18.7" fill="#d9d9d9"/><rect x="467" y="1858.4" width="30" height="70.6" fill="#e8403f"/>
<rect x="518" y="1849.8" width="30" height="27.4" fill="#d9d9d9"/><rect x="518" y="1877.2" width="30" height="51.8" fill="#e8403f"/>
</g>
<path d="M366,1835.4H396M366,1865.6H396M420,1828.2H450M420,1849.8H450M467,1839.7H497M467,1858.4H497M518,1849.8H548M518,1877.2H548" stroke="#000" stroke-width="3"/>
<path d="M381,1835V1831M376,1831H386M381,1865V1862M435,1828V1825M430,1825H440M482,1858V1852M477,1852H487M533,1877V1872M528,1872H538M533,1850V1846M528,1846H538" stroke="#000" stroke-width="1.5" fill="none"/>
<g font-size="12" font-weight="bold" text-anchor="middle"><text x="435" y="1826">**</text><text x="435" y="1848">**</text><text x="533" y="1849">**</text><text x="533" y="1876">*</text></g>
<rect x="359" y="1786" width="10" height="9" fill="#e8403f" stroke="#000"/><rect x="359" y="1800" width="10" height="9" fill="#d9d9d9" stroke="#000"/>
<g font-size="8.5"><text x="376" y="1794">Effector/effector memory</text><text x="376" y="1808">Naive</text></g>
<g font-size="8.5" text-anchor="middle"><text x="381" y="1941">sgCtrl</text><text x="435" y="1941">sgNampt</text><text x="482" y="1941">Ctrl</text><text x="533" y="1941">NMN</text><text x="404" y="1966">Nampt KO</text><text x="511" y="1966">NAD<tspan dy="-3" font-size="6">+</tspan><tspan dy="3"> precursor</tspan></text></g>
<path d="M362,1948H457M466,1948H555" stroke="#000" stroke-width="2"/>
<text transform="translate(323,1857) rotate(-90)" font-size="10" text-anchor="middle">% of CD8<tspan dy="-3" font-size="7">+</tspan><tspan dy="3"> T cells</tspan></text>

<!-- I3 -->
<path d="M628,1786V1931H847" stroke="#000" stroke-width="2" fill="none"/>
<g font-size="8.5" text-anchor="end"><text x="624" y="1789">60</text><text x="624" y="1837.5">40</text><text x="624" y="1886">20</text><text x="624" y="1934">0</text></g>
<g fill="#000"><circle cx="652" cy="1844" r="2.8"/><circle cx="648" cy="1846.4" r="2.8"/><circle cx="656" cy="1846.4" r="2.8"/><circle cx="652" cy="1851.2" r="2.8"/>
<path d="M764,1848.2l3,5.5h-6z"/><path d="M764,1857.8l3,5.5h-6z"/><path d="M764,1865l3,5.5h-6z"/></g>
<g fill="#e8393c"><circle cx="708" cy="1887.5" r="2.8"/><circle cx="704" cy="1897.2" r="2.8"/><circle cx="712" cy="1897.2" r="2.8"/><circle cx="708" cy="1906.8" r="2.8"/>
<path d="M817,1816.8l3,3-3,3-3-3z"/><path d="M813,1826.5l3,3-3,3-3-3z"/><path d="M821,1826.5l3,3-3,3-3-3z"/><path d="M817,1836.2l3,3-3,3-3-3z"/></g>
<path d="M642,1848.8H662M652,1844V1851.2M647,1844H657M647,1851.2H657M698,1897.2H718M708,1887.5V1906.8M703,1887.5H713M703,1906.8H713M754,1863.3H774M764,1853.7V1870.6M759,1853.7H769M759,1870.6H769M807,1829.5H827M817,1819.8V1839.2M812,1819.8H822M812,1839.2H822" stroke="#000" stroke-width="2" fill="none"/>
<path d="M652,1833H708M764,1806H817" stroke="#000" stroke-width="2.5"/>
<g font-size="15" font-weight="bold" text-anchor="middle"><text x="680" y="1837">**</text><text x="790" y="1810">*</text></g>
<g font-size="8.5" text-anchor="middle"><text x="652" y="1941">sgCtrl</text><text x="708" y="1941">sgNampt</text><text x="764" y="1941">Ctrl</text><text x="817" y="1941">NMN</text><text x="682" y="1968">Nampt KO</text><text x="789" y="1968">NAD<tspan dy="-3" font-size="6">+</tspan><tspan dy="3"> precursor</tspan></text></g>
<path d="M638,1953H727M745,1953H836" stroke="#000" stroke-width="2"/>
<text transform="translate(606,1858) rotate(-90)" font-size="10" text-anchor="middle">%PD-1<tspan dy="-3" font-size="7">+</tspan><tspan dy="3"> of CD8</tspan><tspan dy="-3" font-size="7">+</tspan><tspan dy="3"> T cells</tspan></text>

<!-- I4 -->
<path d="M934,1786V1931H1160" stroke="#000" stroke-width="2" fill="none"/>
<g font-size="8.5" text-anchor="end"><text x="930" y="1789">80</text><text x="930" y="1825">60</text><text x="930" y="1861.5">40</text><text x="930" y="1898">20</text><text x="930" y="1934">0</text></g>
<g fill="#000"><circle cx="961" cy="1847.6" r="2.8"/><circle cx="957" cy="1856.7" r="2.8"/><circle cx="965" cy="1856.7" r="2.8"/><circle cx="961" cy="1863.9" r="2.8"/>
<path d="M1073,1834.9l3,5.5h-6z"/><path d="M1073,1842.1l3,5.5h-6z"/><path d="M1073,1851.2l3,5.5h-6z"/></g>
<g fill="#e8393c"><circle cx="1015" cy="1811.4" r="2.8"/><circle cx="1011" cy="1824.1" r="2.8"/><circle cx="1019" cy="1824.1" r="2.8"/><circle cx="1015" cy="1834.9" r="2.8"/>
<path d="M1129,1882.7l3,3-3,3-3-3z"/><path d="M1125,1888.1l3,3-3,3-3-3z"/><path d="M1133,1888.1l3,3-3,3-3-3z"/><path d="M1129,1891.8l3,3-3,3-3-3z"/></g>
<path d="M951,1856.7H971M961,1847.6V1863.9M956,1847.6H966M956,1863.9H966M1005,1824.1H1025M1015,1811.4V1834.9M1010,1811.4H1020M1010,1834.9H1020M1063,1847.6H1083M1073,1840.4V1856.7M1068,1840.4H1078M1068,1856.7H1078M1119,1891.1H1139M1129,1885.7V1894.8M1124,1885.7H1134M1124,1894.8H1134" stroke="#000" stroke-width="2" fill="none"/>
<path d="M961,1799H1015M1073,1827H1129" stroke="#000" stroke-width="2.5"/>
<g font-size="15" font-weight="bold" text-anchor="middle"><text x="988" y="1803">*</text><text x="1101" y="1831">**</text></g>
<g font-size="8.5" text-anchor="middle"><text x="961" y="1941">sgCtrl</text><text x="1015" y="1941">sgNampt</text><text x="1073" y="1941">Ctrl</text><text x="1129" y="1941">NMN</text><text x="996" y="1966">Nampt KO</text><text x="1100" y="1966">NAD<tspan dy="-3" font-size="6">+</tspan><tspan dy="3"> precursor</tspan></text></g>
<path d="M950,1951H1039M1054,1951H1148" stroke="#000" stroke-width="2.5"/>
<text transform="translate(912,1858) rotate(-90)" font-size="10" text-anchor="middle">%CD107a<tspan dy="-3" font-size="7">+</tspan><tspan dy="3"> of CD8</tspan><tspan dy="-3" font-size="7">+</tspan><tspan dy="3"> T cells</tspan></text>

<!-- I5 -->
<path d="M1215,1787V1932" stroke="#000" stroke-width="1.5"/><path d="M1215,1932H1438" stroke="#999" stroke-width="3"/>
<g font-size="8.5" text-anchor="end"><text x="1211" y="1790">50</text><text x="1211" y="1819">40</text><text x="1211" y="1848">30</text><text x="1211" y="1877">20</text><text x="1211" y="1906">10</text><text x="1211" y="1935">0</text></g>
<g fill="#000"><circle cx="1238" cy="1845" r="2.8"/><circle cx="1234" cy="1853.7" r="2.8"/><circle cx="1242" cy="1853.7" r="2.8"/><circle cx="1238" cy="1862.4" r="2.8"/>
<path d="M1352,1828.4l3,5.5h-6z"/><path d="M1348,1831.3l3,5.5h-6z"/><path d="M1356,1831.3l3,5.5h-6z"/><path d="M1352,1842.9l3,5.5h-6z"/></g>
<g fill="#e8393c"><circle cx="1293" cy="1810.2" r="2.8"/><circle cx="1289" cy="1818.9" r="2.8"/><circle cx="1297" cy="1818.9" r="2.8"/><circle cx="1293" cy="1827.6" r="2.8"/>
<path d="M1408,1873.9l3,3-3,3-3-3z"/><path d="M1408,1879.7l3,3-3,3-3-3z"/><path d="M1408,1888.4l3,3-3,3-3-3z"/></g>
<path d="M1228,1853.7H1248M1238,1845V1862.4M1233,1845H1243M1233,1862.4H1243M1283,1818.9H1303M1293,1810.2V1827.6M1288,1810.2H1298M1288,1827.6H1298M1342,1839.2H1362M1352,1833.4V1847.9M1347,1833.4H1357M1347,1847.9H1357M1398,1882.7H1418M1408,1876.9V1891.4M1403,1876.9H1413M1403,1891.4H1413" stroke="#000" stroke-width="2" fill="none"/>
<path d="M1238,1799H1293M1352,1823H1408" stroke="#000" stroke-width="2.5"/>
<g font-size="15" font-weight="bold" text-anchor="middle"><text x="1265" y="1803">*</text><text x="1380" y="1827">**</text></g>
<g font-size="8.5" text-anchor="middle"><text x="1238" y="1941">sgCtrl</text><text x="1293" y="1941">sgNampt</text><text x="1352" y="1941">Ctrl</text><text x="1408" y="1941">NMN</text><text x="1273" y="1968">Nampt KO</text><text x="1383" y="1968">NAD<tspan dy="-3" font-size="6">+</tspan><tspan dy="3"> precursor</tspan></text></g>
<path d="M1227,1953H1321M1332,1953H1427" stroke="#000" stroke-width="2"/>
<text transform="translate(1188,1858) rotate(-90)" font-size="10" text-anchor="middle">%IFNγ<tspan dy="-3" font-size="7">+</tspan><tspan dy="3"> of CD8</tspan><tspan dy="-3" font-size="7">+</tspan><tspan dy="3"> T cells</tspan></text>

<!-- I6 -->
<path d="M1494,1786V1931" stroke="#000" stroke-width="1.5"/><path d="M1494,1931H1717" stroke="#999" stroke-width="3"/>
<g font-size="8.5" text-anchor="end"><text x="1490" y="1789">50</text><text x="1490" y="1818">40</text><text x="1490" y="1847">30</text><text x="1490" y="1876">20</text><text x="1490" y="1905">10</text><text x="1490" y="1934">0</text></g>
<g fill="#000"><circle cx="1516" cy="1864.3" r="2.8"/><circle cx="1512" cy="1870.1" r="2.8"/><circle cx="1520" cy="1870.1" r="2.8"/><circle cx="1516" cy="1875.9" r="2.8"/>
<path d="M1633,1814.9l3,5.5h-6z"/><path d="M1629,1826.5l3,5.5h-6z"/><path d="M1637,1826.5l3,5.5h-6z"/><path d="M1633,1838.1l3,5.5h-6z"/></g>
<g fill="#e8393c"><circle cx="1574" cy="1829.5" r="2.8"/><circle cx="1570" cy="1841.1" r="2.8"/><circle cx="1578" cy="1841.1" r="2.8"/><circle cx="1574" cy="1849.8" r="2.8"/>
<path d="M1689,1881.6l3,3-3,3-3-3z"/><path d="M1685,1890.3l3,3-3,3-3-3z"/><path d="M1693,1890.3l3,3-3,3-3-3z"/><path d="M1689,1899l3,3-3,3-3-3z"/></g>
<path d="M1506,1870.1H1526M1516,1864.3V1875.9M1511,1864.3H1521M1511,1875.9H1521M1564,1841.1H1584M1574,1829.5V1849.8M1569,1829.5H1579M1569,1849.8H1579M1623,1829.5H1643M1633,1817.9V1841.1M1628,1817.9H1638M1628,1841.1H1638M1679,1893.3H1699M1689,1884.6V1902M1684,1884.6H1694M1684,1902H1694" stroke="#000" stroke-width="2" fill="none"/>
<path d="M1516,1818H1574M1633,1804H1689" stroke="#000" stroke-width="2.5"/>
<g font-size="15" font-weight="bold" text-anchor="middle"><text x="1545" y="1822">**</text><text x="1661" y="1808">**</text></g>
<g font-size="8.5" text-anchor="middle"><text x="1516" y="1941">sgCtrl</text><text x="1574" y="1941">sgNampt</text><text x="1633" y="1941">Ctrl</text><text x="1689" y="1941">NMN</text><text x="1550" y="1966">Nampt KO</text><text x="1661" y="1966">NAD<tspan dy="-3" font-size="6">+</tspan><tspan dy="3"> precursor</tspan></text></g>
<path d="M1505,1951H1600M1617,1951H1708" stroke="#000" stroke-width="2"/>
<text transform="translate(1467,1858) rotate(-90)" font-size="10" text-anchor="middle">%TNFα<tspan dy="-3" font-size="7">+</tspan><tspan dy="3"> of CD8</tspan><tspan dy="-3" font-size="7">+</tspan><tspan dy="3"> T cells</tspan></text>

<!-- ===== J ===== -->
<use xlink:href="#mouse" href="#mouse" transform="translate(110,2060) scale(0.95)" fill="#3d3d3d"/>
<text transform="translate(72,2070) rotate(-90)" font-size="14" font-weight="bold" text-anchor="middle">C57BL/6</text>
<text x="146" y="2024" font-size="16" font-weight="bold">i.p. injection:</text>
<text x="146" y="2045" font-size="16" font-weight="bold" fill="#e8191f">αCD4, αCD8, αCD4+αCD8 or IgG (100 μg)</text>
<g fill="#e8191f">
<rect x="147" y="2050" width="6" height="19"/><polygon points="139,2067 161,2067 150,2088"/>
<rect x="170" y="2050" width="6" height="19"/><polygon points="162,2067 184,2067 173,2088"/>
<rect x="190" y="2050" width="6" height="19"/><polygon points="182,2067 204,2067 193,2088"/>
<rect x="240" y="2050" width="6" height="19"/><polygon points="232,2067 254,2067 243,2088"/>
<rect x="284" y="2050" width="6" height="19"/><polygon points="276,2067 298,2067 287,2088"/>
<rect x="336" y="2050" width="6" height="19"/><polygon points="328,2067 350,2067 339,2088"/>
<rect x="380" y="2050" width="6" height="19"/><polygon points="372,2067 394,2067 383,2088"/>
<rect x="429" y="2050" width="6" height="19"/><polygon points="421,2067 443,2067 432,2088"/>
<rect x="475" y="2050" width="6" height="19"/><polygon points="467,2067 489,2067 478,2088"/>
</g>
<path d="M150,2110H522" stroke="#000" stroke-width="6"/><polygon points="518,2098 540,2110 518,2122"/>
<path d="M150,2092V2128M193,2092V2128M287,2092V2128M383,2092V2128M478,2092V2128" stroke="#000" stroke-width="4"/>
<g font-size="16" font-weight="bold" text-anchor="middle"><text x="106" y="2148">Day</text><text x="150" y="2148">-3</text><text x="194" y="2148">0</text><text x="287" y="2148">7</text><text x="383" y="2148">14</text><text x="478" y="2148">21</text></g>
<path d="M193,2187V2168" stroke="#000" stroke-width="5"/><polygon points="184,2170 202,2170 193,2153"/>
<text x="154" y="2209" font-size="16" font-weight="bold">s.c. injection: Hepa1-6 shNampt or shCtrl cells</text>

<!-- ===== L ===== -->
<path d="M164,2244V2407H410" stroke="#000" stroke-width="2.5" fill="none"/>
<path d="M159,2244H164M159,2284.75H164M159,2325.5H164M159,2366.25H164M159,2407H164M180,2407V2412M210,2407V2412M241,2407V2412M271,2407V2412M301,2407V2412M332,2407V2412M363,2407V2412M394,2407V2412" stroke="#000" stroke-width="2"/>
<g font-size="11" font-weight="bold" text-anchor="end"><text x="157" y="2248">2.0</text><text x="157" y="2289">1.5</text><text x="157" y="2329.5">1.0</text><text x="157" y="2370">0.5</text><text x="157" y="2411">0.0</text></g>
<text transform="translate(131,2325) rotate(-90)" font-size="12.5" font-weight="bold" text-anchor="middle">Tumor weight (g)</text>
<g font-size="12" font-weight="bold" text-anchor="end">
<text transform="translate(184.5,2414) rotate(-90)">shCtrl</text><text transform="translate(214.5,2414) rotate(-90)">shNampt</text>
<text transform="translate(245.5,2414) rotate(-90)">shCtrl</text><text transform="translate(275.5,2414) rotate(-90)">shNampt</text>
<text transform="translate(305.5,2414) rotate(-90)">shCtrl</text><text transform="translate(336.5,2414) rotate(-90)">shNampt</text>
<text transform="translate(367.5,2414) rotate(-90)">shCtrl</text><text transform="translate(398.5,2414) rotate(-90)">shNampt</text>
</g>
<path d="M180,2470H213M238,2470H270M298,2470H332M360,2470H394" stroke="#000" stroke-width="2"/>
<g font-size="12" font-weight="bold" text-anchor="middle"><text x="197" y="2487">IgG</text><text x="253" y="2487">αCD4</text><text x="316" y="2487">αCD8</text><text x="381" y="2487">αCD4+αCD8</text></g>
<g fill="#000"><circle cx="184" cy="2341.8" r="3.5"/><circle cx="180" cy="2350" r="3.5"/><circle cx="186" cy="2362" r="3.5"/><circle cx="176" cy="2372.8" r="3.5"/><circle cx="184" cy="2372.8" r="3.5"/>
<path d="M241,2299.5l4,7h-8z"/><path d="M245,2305.2l4,7h-8z"/><path d="M237,2313.4l4,7h-8z"/><path d="M245,2313.4l4,7h-8z"/><path d="M241,2332.1l4,7h-8z"/>
<path d="M301,2293l4,4-4,4-4-4z"/><path d="M305,2313.4l4,4-4,4-4-4z"/><path d="M299,2324l4,4-4,4-4-4z"/><path d="M305,2333.7l4,4-4,4-4-4z"/><path d="M301,2341.9l4,4-4,4-4-4z"/></g>
<g fill="none" stroke="#000" stroke-width="1.5"><rect x="361.5" y="2248.7" width="7" height="7"/><rect x="357.5" y="2256.8" width="7" height="7"/><rect x="365.5" y="2262.5" width="7" height="7"/><rect x="357.5" y="2273.1" width="7" height="7"/><rect x="361.5" y="2281.3" width="7" height="7"/></g>
<g fill="#e8393c"><rect x="206" y="2389.6" width="7" height="7"/><rect x="210" y="2392" width="7" height="7"/><rect x="203" y="2394" width="7" height="7"/><rect x="208" y="2396" width="7" height="7"/><rect x="213" y="2396" width="7" height="7"/>
<path d="M271,2363.7l4,-7h-8z"/><path d="M271,2374.3l4,-7h-8z"/><path d="M267,2378.4l4,-7h-8z"/><path d="M275,2380l4,-7h-8z"/><path d="M271,2382.5l4,-7h-8z"/>
<circle cx="332" cy="2332" r="3.8"/><circle cx="330" cy="2341.8" r="3.8"/><circle cx="334" cy="2350" r="3.8"/><circle cx="330" cy="2354" r="3.8"/><circle cx="334" cy="2359.7" r="3.8"/>
<path d="M394,2256.3l4,7h-8z"/><path d="M392,2271l4,7h-8z"/><path d="M390,2284.8l4,7h-8z"/><path d="M394,2287.3l4,7h-8z"/><path d="M398,2287.3l4,7h-8z"/></g>
<path d="M170,2359.7H190M180,2345.9V2374.4M175,2345.9H185M175,2374.4H185M200,2397.2H220M231,2315.7H251M241,2303.5V2328.8M236,2303.5H246M236,2328.8H246M261,2372.8H281M271,2366.2V2378.5M266,2366.2H276M266,2378.5H276M291,2325.5H311M301,2307.6V2343.4M296,2307.6H306M296,2343.4H306M322,2344.2H342M332,2331V2356M327,2331H337M327,2356H337M353,2266.8H373M363,2254.6V2276.6M358,2254.6H368M358,2276.6H368M384,2280.7H404M394,2268.5V2292.9M389,2268.5H399M389,2292.9H399" stroke="#000" stroke-width="2" fill="none"/>
<path d="M180,2338V2332H210V2338M241,2294V2288H271V2294M301,2293V2287H332V2293M363,2246V2240H394V2246" stroke="#000" stroke-width="2" fill="none"/>
<g font-size="14" font-weight="bold" text-anchor="middle"><text x="195" y="2336">***</text><text x="256" y="2292">***</text></g>
<g font-size="13" font-weight="bold" text-anchor="middle"><text x="316" y="2283">n.s.</text><text x="378" y="2236">n.s.</text></g>

<!-- ===== K IgG ===== -->
<g font-weight="bold">
<path d="M640,2013V2184H898" stroke="#000" stroke-width="2" fill="none"/>
<path d="M635,2013H640M635,2070H640M635,2127H640M635,2184H640M673,2184V2189M722,2184V2189M769,2184V2189M817,2184V2189M865,2184V2189" stroke="#000" stroke-width="1.5"/>
<g font-size="12.5" text-anchor="end"><text x="633" y="2017.5">1500</text><text x="633" y="2074.5">1000</text><text x="633" y="2131.5">500</text><text x="633" y="2188.5">0</text></g>
<g font-size="13" text-anchor="middle"><text x="673" y="2207">7</text><text x="722" y="2207">10</text><text x="769" y="2207">14</text><text x="817" y="2207">17</text><text x="865" y="2207">21</text></g>
<text x="769" y="2230" font-size="14" text-anchor="middle">Days</text>
<text transform="translate(596,2098) rotate(-90)" font-size="12.5" text-anchor="middle">Tumor volume (mm<tspan dy="-4" font-size="8">3</tspan><tspan dy="4">)</tspan></text>
<g font-size="12"><text x="677" y="2021">shCtrl</text><text x="677" y="2042">shNampt</text></g>
<text x="740" y="2034" font-size="16">IgG</text>
</g>
<path d="M722,2177.7V2173.2M769,2175.4V2169.7M817,2174.9V2168M813,2168H821M865,2174.9V2161.2M861,2174.9H869M861,2161.2H869" stroke="#e8393c" stroke-width="1.5" fill="none"/>
<path d="M722,2169.7V2159.5M718,2169.7H726M718,2159.5H726M769,2161.8V2137.8M765,2161.8H773M765,2137.8H773M817,2145.8V2101.4M813,2145.8H821M813,2101.4H821M865,2119.6V2066M861,2119.6H869M861,2066H869" stroke="#000" stroke-width="1.5" fill="none"/>
<polyline points="673,2177.7 722,2175.5 769,2172.6 817,2171.5 865,2168" stroke="#e8393c" stroke-width="2" fill="none"/>
<polyline points="673,2177.2 722,2164.6 769,2149.8 817,2123.6 865,2092.8" stroke="#000" stroke-width="2" fill="none"/>
<g fill="#e8393c"><rect x="669.5" y="2174.2" width="7" height="7"/><rect x="718.5" y="2172" width="7" height="7"/><rect x="765.5" y="2169.1" width="7" height="7"/><rect x="813.5" y="2168" width="7" height="7"/><rect x="861.5" y="2164.5" width="7" height="7"/></g>
<g fill="#000"><circle cx="673" cy="2177.2" r="4"/><circle cx="722" cy="2164.6" r="4"/><circle cx="769" cy="2149.8" r="4"/><circle cx="817" cy="2123.6" r="4"/><circle cx="865" cy="2092.8" r="4"/></g>
<path d="M652,2017H666" stroke="#000" stroke-width="2"/><circle cx="659" cy="2017" r="4"/><path d="M652,2038H666" stroke="#e8393c" stroke-width="2"/><rect x="655.5" y="2034.5" width="7" height="7" fill="#e8393c"/>
<path d="M733,2012V2044" stroke="#000" stroke-width="1.5"/>
<path d="M876,2092.8H881V2168H876" stroke="#000" stroke-width="1.5" fill="none"/>
<text x="885" y="2139" font-size="18" font-weight="bold" letter-spacing="1">***</text>

<!-- ===== K aCD8 ===== -->
<g font-weight="bold">
<path d="M631,2253V2424H898" stroke="#000" stroke-width="2" fill="none"/>
<path d="M626,2253H631M626,2287.2H631M626,2321.4H631M626,2355.6H631M626,2389.8H631M626,2424H631M672,2424V2429M719,2424V2429M767,2424V2429M815,2424V2429M864,2424V2429" stroke="#000" stroke-width="1.5"/>
<g font-size="12.5" text-anchor="end"><text x="624" y="2257.5">2500</text><text x="624" y="2291.7">2000</text><text x="624" y="2326">1500</text><text x="624" y="2360">1000</text><text x="624" y="2394.3">500</text><text x="624" y="2428.5">0</text></g>
<g font-size="13" text-anchor="middle"><text x="672" y="2446">7</text><text x="719" y="2446">10</text><text x="767" y="2446">14</text><text x="815" y="2446">17</text><text x="864" y="2446">21</text></g>
<text x="767" y="2469" font-size="14" text-anchor="middle">Days</text>
<text transform="translate(592,2338) rotate(-90)" font-size="12.5" text-anchor="middle">Tumor volume (mm<tspan dy="-4" font-size="8">3</tspan><tspan dy="4">)</tspan></text>
<g font-size="12"><text x="677" y="2261">shCtrl</text><text x="677" y="2281">shNampt</text></g>
<text x="739" y="2274" font-size="16">αCD8</text>
</g>
<path d="M719,2412.4V2404.1M767,2404.8V2388.4M763,2388.4H771M815,2393.2V2357.7M811,2393.2H819M811,2357.7H819M864,2367.2V2328.9M860,2367.2H868M860,2328.9H868" stroke="#e8393c" stroke-width="1.5" fill="none"/>
<path d="M672,2421.3V2417.2M719,2409.6V2401.4M715,2401.4H723M767,2401.4V2381.6M763,2401.4H771M763,2381.6H771M815,2385.7V2335.1M811,2385.7H819M811,2335.1H819M864,2347.4V2287.2M860,2347.4H868M860,2287.2H868" stroke="#000" stroke-width="1.5" fill="none"/>
<polyline points="672,2419.9 719,2408.3 767,2396.6 815,2375.4 864,2348.1" stroke="#e8393c" stroke-width="2" fill="none"/>
<polyline points="672,2419.2 719,2405.5 767,2391.9 815,2360.4 864,2317.3" stroke="#000" stroke-width="2" fill="none"/>
<g fill="#e8393c"><rect x="668.5" y="2416.4" width="7" height="7"/><rect x="715.5" y="2404.8" width="7" height="7"/><rect x="763.5" y="2393.1" width="7" height="7"/><rect x="811.5" y="2371.9" width="7" height="7"/><rect x="860.5" y="2344.6" width="7" height="7"/></g>
<g fill="#000"><circle cx="672" cy="2419.2" r="4"/><circle cx="719" cy="2405.5" r="4"/><circle cx="767" cy="2391.9" r="4"/><circle cx="815" cy="2360.4" r="4"/><circle cx="864" cy="2317.3" r="4"/></g>
<path d="M650,2257H664" stroke="#000" stroke-width="2"/><circle cx="657" cy="2257" r="4"/><path d="M650,2277H664" stroke="#e8393c" stroke-width="2"/><rect x="653.5" y="2273.5" width="7" height="7" fill="#e8393c"/>
<path d="M732,2252V2284" stroke="#000" stroke-width="1.5"/>
<path d="M867,2317.3H872V2348.1H867" stroke="#000" stroke-width="1.5" fill="none"/>
<text x="877" y="2338" font-size="14" font-weight="bold">n.s.</text>

<!-- ===== K aCD4 ===== -->
<g font-weight="bold">
<path d="M993,2014V2185H1251" stroke="#000" stroke-width="2" fill="none"/>
<path d="M988,2014H993M988,2056.75H993M988,2099.5H993M988,2142.25H993M988,2185H993M1026,2185V2190M1074,2185V2190M1122,2185V2190M1170,2185V2190M1218,2185V2190" stroke="#000" stroke-width="1.5"/>
<g font-size="12.5" text-anchor="end"><text x="986" y="2018.5">2000</text><text x="986" y="2061">1500</text><text x="986" y="2104">1000</text><text x="986" y="2146.7">500</text><text x="986" y="2189.5">0</text></g>
<g font-size="13" text-anchor="middle"><text x="1026" y="2207">7</text><text x="1074" y="2207">10</text><text x="1122" y="2207">14</text><text x="1170" y="2207">17</text><text x="1218" y="2207">21</text></g>
<text x="1122" y="2230" font-size="14" text-anchor="middle">Days</text>
<text transform="translate(949,2098) rotate(-90)" font-size="12.5" text-anchor="middle">Tumor volume (mm<tspan dy="-4" font-size="8">3</tspan><tspan dy="4">)</tspan></text>
<g font-size="12"><text x="1031" y="2021">shCtrl</text><text x="1031" y="2042">shNampt</text></g>
<text x="1093" y="2034" font-size="16">αCD4</text>
</g>
<path d="M1074,2172.2V2167M1122,2169.2V2158.9M1118,2158.9H1126M1170,2166.2V2146.5M1166,2166.2H1174M1166,2146.5H1174M1218,2157.6V2130.3M1214,2157.6H1222M1214,2130.3H1222" stroke="#e8393c" stroke-width="1.5" fill="none"/>
<path d="M1074,2168.8V2158.5M1070,2158.5H1078M1122,2157.6V2126.9M1118,2157.6H1126M1118,2126.9H1126M1170,2128.6V2080.7M1166,2128.6H1174M1166,2080.7H1174M1218,2088.4V2026.8M1214,2088.4H1222M1214,2026.8H1222" stroke="#000" stroke-width="1.5" fill="none"/>
<polyline points="1026,2179.9 1074,2169.6 1122,2164 1170,2156.8 1218,2144" stroke="#e8393c" stroke-width="2" fill="none"/>
<polyline points="1026,2179 1074,2163.6 1122,2142.3 1170,2104.6 1218,2057.6" stroke="#000" stroke-width="2" fill="none"/>
<g fill="#e8393c"><rect x="1022.5" y="2176.4" width="7" height="7"/><rect x="1070.5" y="2166.1" width="7" height="7"/><rect x="1118.5" y="2160.5" width="7" height="7"/><rect x="1166.5" y="2153.3" width="7" height="7"/><rect x="1214.5" y="2140.5" width="7" height="7"/></g>
<g fill="#000"><circle cx="1026" cy="2179" r="4"/><circle cx="1074" cy="2163.6" r="4"/><circle cx="1122" cy="2142.3" r="4"/><circle cx="1170" cy="2104.6" r="4"/><circle cx="1218" cy="2057.6" r="4"/></g>
<path d="M1005,2017H1019" stroke="#000" stroke-width="2"/><circle cx="1012" cy="2017" r="4"/><path d="M1005,2038H1019" stroke="#e8393c" stroke-width="2"/><rect x="1008.5" y="2034.5" width="7" height="7" fill="#e8393c"/>
<path d="M1086,2012V2044" stroke="#000" stroke-width="1.5"/>
<path d="M1229,2057.6H1234V2144H1229" stroke="#000" stroke-width="1.5" fill="none"/>
<text x="1239" y="2110" font-size="18" font-weight="bold" letter-spacing="1">***</text>

<!-- ===== K aCD4+aCD8 ===== -->
<g font-weight="bold">
<path d="M989,2253V2424H1252" stroke="#000" stroke-width="2" fill="none"/>
<path d="M984,2253H989M984,2295.75H989M984,2338.5H989M984,2381.25H989M984,2424H989M1027,2424V2429M1075,2424V2429M1124,2424V2429M1172,2424V2429M1220,2424V2429" stroke="#000" stroke-width="1.5"/>
<g font-size="12.5" text-anchor="end"><text x="982" y="2257.5">4000</text><text x="982" y="2300">3000</text><text x="982" y="2343">2000</text><text x="982" y="2385.7">1000</text><text x="982" y="2428.5">0</text></g>
<g font-size="13" text-anchor="middle"><text x="1027" y="2446">7</text><text x="1075" y="2446">10</text><text x="1124" y="2446">14</text><text x="1172" y="2446">17</text><text x="1220" y="2446">21</text></g>
<text x="1124" y="2469" font-size="14" text-anchor="middle">Days</text>
<text transform="translate(950,2338) rotate(-90)" font-size="12.5" text-anchor="middle">Tumor volume (mm<tspan dy="-4" font-size="8">3</tspan><tspan dy="4">)</tspan></text>
<g font-size="12"><text x="1033" y="2261">shCtrl</text><text x="1033" y="2281">shNampt</text></g>
<text x="1095" y="2274" font-size="16">αCD4+αCD8</text>
</g>
<path d="M1075,2412.5V2405.6M1124,2406.9V2379.5M1120,2406.9H1128M1120,2379.5H1128M1172,2387.2V2341.9M1168,2387.2H1176M1168,2341.9H1176M1220,2359.4V2294M1216,2359.4H1224M1216,2294H1224" stroke="#e8393c" stroke-width="1.5" fill="none"/>
<path d="M1075,2412.5V2401.3M1071,2401.3H1079M1124,2402.2V2378.7M1120,2378.7H1128M1172,2377.4V2331.2M1168,2377.4H1176M1168,2331.2H1176M1220,2339V2277.4M1216,2339H1224M1216,2277.4H1224" stroke="#000" stroke-width="1.5" fill="none"/>
<polyline points="1027,2421.4 1075,2409 1124,2393.2 1172,2364.6 1220,2326.5" stroke="#e8393c" stroke-width="2" fill="none"/>
<polyline points="1027,2421 1075,2406.9 1124,2390.2 1172,2354.3 1220,2308.2" stroke="#000" stroke-width="2" fill="none"/>
<g fill="#e8393c"><rect x="1023.5" y="2417.9" width="7" height="7"/><rect x="1071.5" y="2405.5" width="7" height="7"/><rect x="1120.5" y="2389.7" width="7" height="7"/><rect x="1168.5" y="2361.1" width="7" height="7"/><rect x="1216.5" y="2323" width="7" height="7"/></g>
<g fill="#000"><circle cx="1027" cy="2421" r="4"/><circle cx="1075" cy="2406.9" r="4"/><circle cx="1124" cy="2390.2" r="4"/><circle cx="1172" cy="2354.3" r="4"/><circle cx="1220" cy="2308.2" r="4"/></g>
<path d="M1007,2257H1021" stroke="#000" stroke-width="2"/><circle cx="1014" cy="2257" r="4"/><path d="M1007,2277H1021" stroke="#e8393c" stroke-width="2"/><rect x="1010.5" y="2273.5" width="7" height="7" fill="#e8393c"/>
<path d="M1088,2252V2284" stroke="#000" stroke-width="1.5"/>
<path d="M1230,2308.2H1235V2326.5H1230" stroke="#000" stroke-width="1.5" fill="none"/>
<text x="1240" y="2322" font-size="14" font-weight="bold">n.s.</text>

<!-- ===== K photo ===== -->
<rect x="1296" y="2016" width="239" height="406" fill="#fdfcfb" stroke="#000" stroke-width="3"/>
<g>
<ellipse cx="1327" cy="2038" rx="14" ry="17" fill="url(#tK1)"/><ellipse cx="1372" cy="2040" rx="13" ry="15" fill="url(#tK1)"/><ellipse cx="1419" cy="2041" rx="13" ry="14" fill="url(#t1)"/><ellipse cx="1461" cy="2043" rx="13" ry="14" fill="url(#tK1)"/><ellipse cx="1503" cy="2041" rx="13" ry="14" fill="url(#tK2)"/>
<ellipse cx="1327" cy="2082" rx="8" ry="9" fill="url(#tK1)"/><ellipse cx="1372" cy="2080" rx="6" ry="9" fill="url(#tK2)"/><ellipse cx="1419" cy="2085" rx="6" ry="7" fill="url(#t1)"/><ellipse cx="1461" cy="2085" rx="5" ry="6" fill="url(#t1)"/><ellipse cx="1503" cy="2086" rx="5" ry="6" fill="url(#tK2)"/>
<ellipse cx="1327" cy="2130" rx="16" ry="17" fill="url(#t1)"/><ellipse cx="1372" cy="2128" rx="14" ry="18" fill="url(#tK1)"/><ellipse cx="1419" cy="2131" rx="15" ry="14" fill="url(#tK2)"/><ellipse cx="1461" cy="2130" rx="13" ry="17" fill="url(#tK1)"/><ellipse cx="1503" cy="2131" rx="13" ry="15" fill="url(#tK2)"/>
<ellipse cx="1327" cy="2177" rx="11" ry="13" fill="url(#t1)"/><ellipse cx="1372" cy="2175" rx="10" ry="13" fill="url(#t1)"/><ellipse cx="1419" cy="2178" rx="9" ry="12" fill="url(#t1)"/><ellipse cx="1461" cy="2177" rx="8" ry="9" fill="url(#tK1)"/><ellipse cx="1503" cy="2179" rx="7" ry="12" fill="url(#tK2)"/>
<ellipse cx="1327" cy="2228" rx="14" ry="16" fill="url(#tK1)"/><ellipse cx="1372" cy="2230" rx="13" ry="16" fill="url(#tK1)"/><ellipse cx="1419" cy="2232" rx="12" ry="18" fill="url(#tK2)"/><ellipse cx="1461" cy="2231" rx="11" ry="15" fill="url(#tK1)"/><ellipse cx="1503" cy="2231" rx="11" ry="16" fill="url(#tK2)"/>
<ellipse cx="1327" cy="2275" rx="13" ry="14" fill="url(#tK2)"/><ellipse cx="1372" cy="2280" rx="12" ry="15" fill="url(#tK2)"/><ellipse cx="1419" cy="2278" rx="12" ry="13" fill="url(#tK2)"/><ellipse cx="1461" cy="2276" rx="10" ry="13" fill="url(#tK2)"/><ellipse cx="1503" cy="2278" rx="10" ry="13" fill="url(#tK1)"/>
<ellipse cx="1328" cy="2340" rx="17" ry="19" fill="url(#tK1)"/><ellipse cx="1373" cy="2340" rx="17" ry="19" fill="url(#tK1)"/><ellipse cx="1419" cy="2338" rx="17" ry="20" fill="url(#tK1)"/><ellipse cx="1462" cy="2339" rx="16" ry="19" fill="url(#tK2)"/><ellipse cx="1503" cy="2339" rx="15" ry="18" fill="url(#tK1)"/>
<ellipse cx="1328" cy="2392" rx="18" ry="20" fill="url(#tK2)"/><ellipse cx="1373" cy="2393" rx="16" ry="20" fill="url(#tK1)"/><ellipse cx="1419" cy="2395" rx="17" ry="18" fill="url(#tK1)"/><ellipse cx="1462" cy="2393" rx="16" ry="18" fill="url(#t1)"/><ellipse cx="1503" cy="2393" rx="14" ry="19" fill="url(#t1)"/>
</g>
<g font-size="17" font-weight="bold">
<text x="1543" y="2054">shCtrl</text><text x="1543" y="2093">shNampt</text>
<text x="1543" y="2149">shCtrl</text><text x="1543" y="2188">shNampt</text>
<text x="1543" y="2245">shCtrl</text><text x="1543" y="2283">shNampt</text>
<text x="1543" y="2355">shCtrl</text><text x="1543" y="2394">shNampt</text>
<text x="1637" y="2069">IgG</text><text x="1637" y="2164">αCD4</text><text x="1637" y="2259">αCD8</text><text x="1637" y="2371">αCD4+αCD8</text>
</g>
<path d="M1625,2033V2093M1625,2130V2190M1625,2222V2283M1625,2335V2395" stroke="#000" stroke-width="3"/>
<line x1="1316" y1="2431" x2="1344" y2="2431" stroke="#000" stroke-width="4"/><text x="1330" y="2449" font-size="12" font-weight="bold" text-anchor="middle">1cm</text>
</svg>
</body></html>
